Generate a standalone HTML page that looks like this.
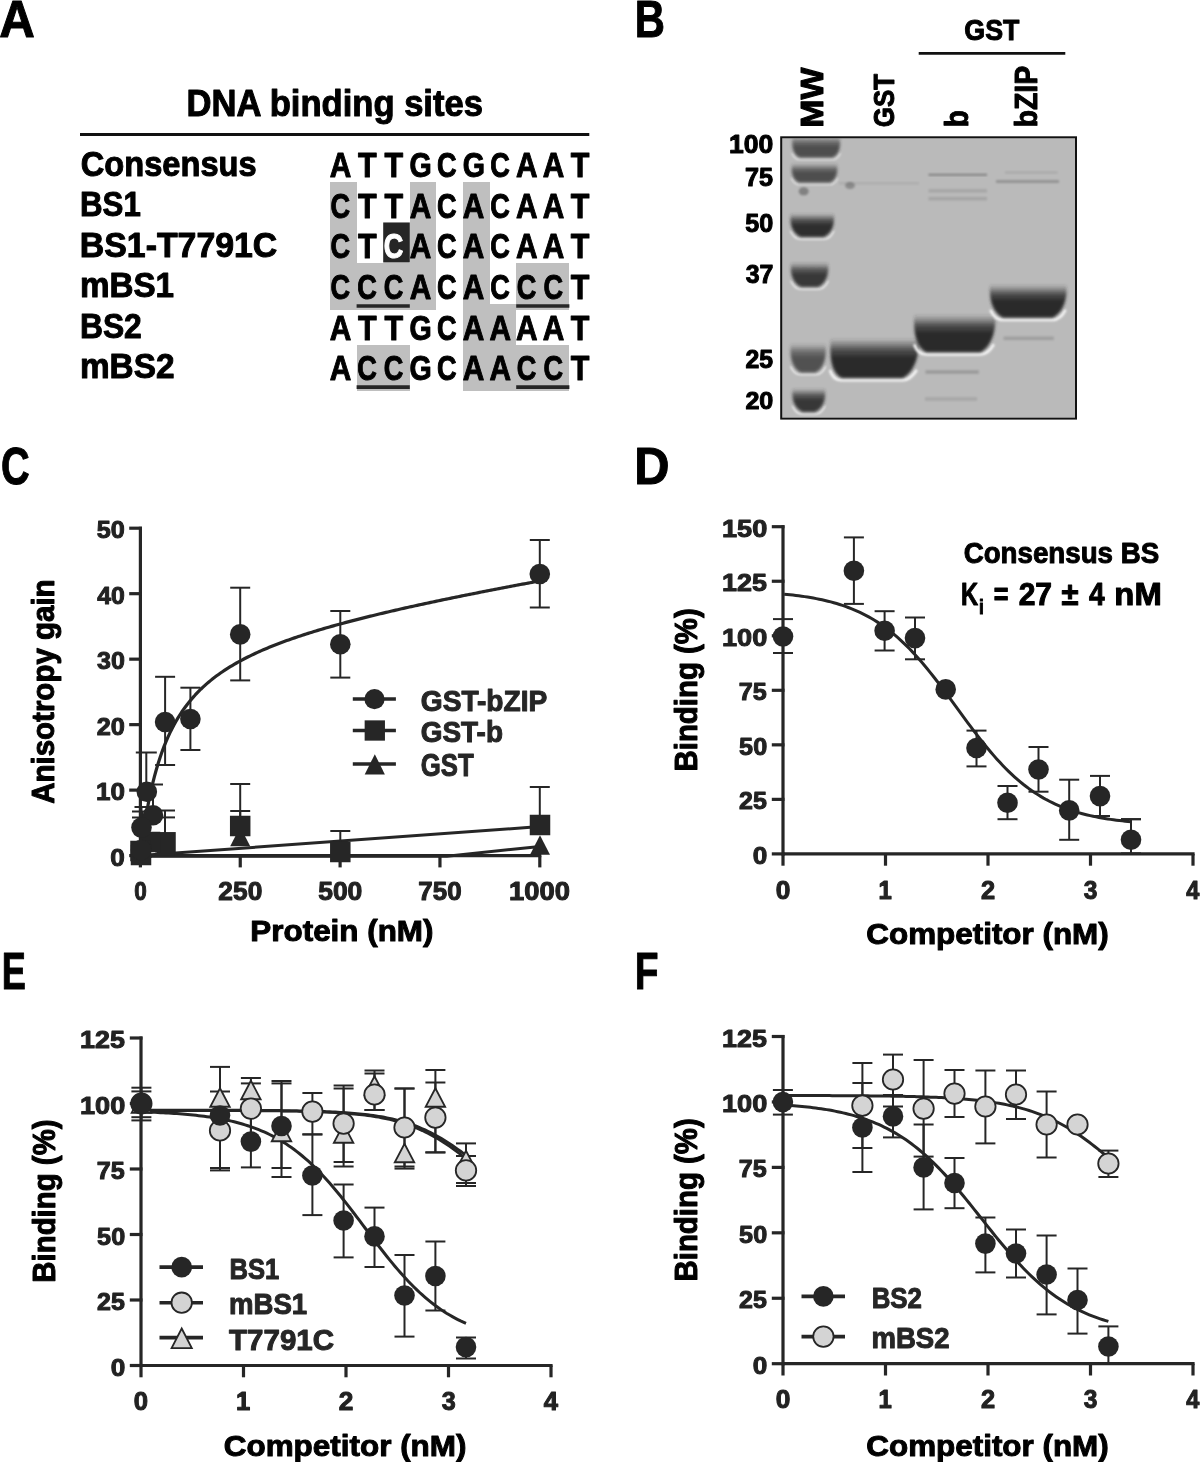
<!DOCTYPE html>
<html><head><meta charset="utf-8"><style>
html,body{margin:0;padding:0;background:#fff;}
svg{display:block;filter:grayscale(1);}
text{font-family:"Liberation Sans",sans-serif;font-weight:bold;}
</style></head><body>
<svg width="1200" height="1462" viewBox="0 0 1200 1462">
<defs>
<filter id="b1" x="-20%" y="-50%" width="140%" height="200%"><feGaussianBlur stdDeviation="1.2"/></filter>
<filter id="bb" x="-20%" y="-50%" width="140%" height="200%"><feGaussianBlur stdDeviation="1.7"/></filter>
<filter id="b2" x="-20%" y="-50%" width="140%" height="200%"><feGaussianBlur stdDeviation="2.5"/></filter>
<filter id="b3" x="-20%" y="-50%" width="140%" height="200%"><feGaussianBlur stdDeviation="4"/></filter>
<filter id="b05" x="-20%" y="-50%" width="140%" height="200%"><feGaussianBlur stdDeviation="0.7"/></filter>
</defs>
<rect width="1200" height="1462" fill="#fff"/>
<text x="-0.73" y="36.75" font-size="52.00" textLength="35.57" lengthAdjust="spacingAndGlyphs" fill="#000" stroke="#000" stroke-width="1.0" stroke-linejoin="round">A</text>
<text x="634.68" y="36.50" font-size="51.64" textLength="30.19" lengthAdjust="spacingAndGlyphs" fill="#000" stroke="#000" stroke-width="1.0" stroke-linejoin="round">B</text>
<text x="0.91" y="483.60" font-size="52.65" textLength="28.67" lengthAdjust="spacingAndGlyphs" fill="#000" stroke="#000" stroke-width="1.0" stroke-linejoin="round">C</text>
<text x="634.20" y="483.50" font-size="52.00" textLength="35.25" lengthAdjust="spacingAndGlyphs" fill="#000" stroke="#000" stroke-width="1.0" stroke-linejoin="round">D</text>
<text x="1.81" y="989.00" font-size="52.00" textLength="24.12" lengthAdjust="spacingAndGlyphs" fill="#000" stroke="#000" stroke-width="1.0" stroke-linejoin="round">E</text>
<text x="634.87" y="989.25" font-size="52.36" textLength="23.77" lengthAdjust="spacingAndGlyphs" fill="#000" stroke="#000" stroke-width="1.0" stroke-linejoin="round">F</text>
<text x="186.47" y="115.50" font-size="36.36" textLength="296.49" lengthAdjust="spacingAndGlyphs" fill="#000" stroke="#000" stroke-width="1.0" stroke-linejoin="round">DNA binding sites</text>
<line x1="80.00" y1="134.50" x2="589.30" y2="134.50" stroke="#111" stroke-width="2.8" stroke-linecap="butt"/>
<text x="80.79" y="175.90" font-size="35.56" textLength="175.92" lengthAdjust="spacingAndGlyphs" fill="#000" stroke="#000" stroke-width="1.0" stroke-linejoin="round">Consensus</text>
<text x="79.99" y="216.30" font-size="35.56" textLength="60.78" lengthAdjust="spacingAndGlyphs" fill="#000" stroke="#000" stroke-width="1.0" stroke-linejoin="round">BS1</text>
<text x="79.82" y="256.60" font-size="35.56" textLength="197.47" lengthAdjust="spacingAndGlyphs" fill="#000" stroke="#000" stroke-width="1.0" stroke-linejoin="round">BS1-T7791C</text>
<text x="79.94" y="296.90" font-size="35.56" textLength="94.14" lengthAdjust="spacingAndGlyphs" fill="#000" stroke="#000" stroke-width="1.0" stroke-linejoin="round">mBS1</text>
<text x="79.95" y="337.50" font-size="35.56" textLength="61.83" lengthAdjust="spacingAndGlyphs" fill="#000" stroke="#000" stroke-width="1.0" stroke-linejoin="round">BS2</text>
<text x="79.93" y="377.90" font-size="35.56" textLength="94.57" lengthAdjust="spacingAndGlyphs" fill="#000" stroke="#000" stroke-width="1.0" stroke-linejoin="round">mBS2</text>
<rect x="330.00" y="182.28" width="26.60" height="40.20" fill="#bfbfbf" shape-rendering="crispEdges"/>
<rect x="409.80" y="182.28" width="26.60" height="40.20" fill="#bfbfbf" shape-rendering="crispEdges"/>
<rect x="463.00" y="182.28" width="26.60" height="40.20" fill="#bfbfbf" shape-rendering="crispEdges"/>
<rect x="330.00" y="222.48" width="26.60" height="40.58" fill="#bfbfbf" shape-rendering="crispEdges"/>
<rect x="409.80" y="222.48" width="26.60" height="40.58" fill="#bfbfbf" shape-rendering="crispEdges"/>
<rect x="463.00" y="222.48" width="26.60" height="40.58" fill="#bfbfbf" shape-rendering="crispEdges"/>
<rect x="330.00" y="263.06" width="26.60" height="46.68" fill="#bfbfbf" shape-rendering="crispEdges"/>
<rect x="356.60" y="263.44" width="26.60" height="46.30" fill="#bfbfbf" shape-rendering="crispEdges"/>
<rect x="383.20" y="263.44" width="26.60" height="46.30" fill="#bfbfbf" shape-rendering="crispEdges"/>
<rect x="409.80" y="263.06" width="26.60" height="46.68" fill="#bfbfbf" shape-rendering="crispEdges"/>
<rect x="463.00" y="263.06" width="26.60" height="40.58" fill="#bfbfbf" shape-rendering="crispEdges"/>
<rect x="516.20" y="263.44" width="26.60" height="46.30" fill="#bfbfbf" shape-rendering="crispEdges"/>
<rect x="542.80" y="263.44" width="26.60" height="46.30" fill="#bfbfbf" shape-rendering="crispEdges"/>
<rect x="463.00" y="303.64" width="26.60" height="40.58" fill="#bfbfbf" shape-rendering="crispEdges"/>
<rect x="489.60" y="304.02" width="26.60" height="40.20" fill="#bfbfbf" shape-rendering="crispEdges"/>
<rect x="356.60" y="344.60" width="26.60" height="46.30" fill="#bfbfbf" shape-rendering="crispEdges"/>
<rect x="383.20" y="344.60" width="26.60" height="46.30" fill="#bfbfbf" shape-rendering="crispEdges"/>
<rect x="463.00" y="344.22" width="26.60" height="46.68" fill="#bfbfbf" shape-rendering="crispEdges"/>
<rect x="489.60" y="344.22" width="26.60" height="46.68" fill="#bfbfbf" shape-rendering="crispEdges"/>
<rect x="516.20" y="344.60" width="26.60" height="46.30" fill="#bfbfbf" shape-rendering="crispEdges"/>
<rect x="542.80" y="344.60" width="26.60" height="46.30" fill="#bfbfbf" shape-rendering="crispEdges"/>
<rect x="383.20" y="222.46" width="26.60" height="40.00" fill="#262626"/>
<text x="329.85" y="177.20" font-size="35.49" textLength="21.56" lengthAdjust="spacingAndGlyphs" fill="#000" stroke="#000" stroke-width="1.0" stroke-linejoin="round">A</text>
<text x="357.89" y="177.20" font-size="35.49" textLength="18.64" lengthAdjust="spacingAndGlyphs" fill="#000" stroke="#000" stroke-width="1.0" stroke-linejoin="round">T</text>
<text x="384.49" y="177.20" font-size="35.49" textLength="18.64" lengthAdjust="spacingAndGlyphs" fill="#000" stroke="#000" stroke-width="1.0" stroke-linejoin="round">T</text>
<text x="409.61" y="177.20" font-size="35.49" textLength="22.24" lengthAdjust="spacingAndGlyphs" fill="#000" stroke="#000" stroke-width="1.0" stroke-linejoin="round">G</text>
<text x="437.01" y="177.20" font-size="35.49" textLength="19.63" lengthAdjust="spacingAndGlyphs" fill="#000" stroke="#000" stroke-width="1.0" stroke-linejoin="round">C</text>
<text x="462.81" y="177.20" font-size="35.49" textLength="22.24" lengthAdjust="spacingAndGlyphs" fill="#000" stroke="#000" stroke-width="1.0" stroke-linejoin="round">G</text>
<text x="490.21" y="177.20" font-size="35.49" textLength="19.63" lengthAdjust="spacingAndGlyphs" fill="#000" stroke="#000" stroke-width="1.0" stroke-linejoin="round">C</text>
<text x="516.05" y="177.20" font-size="35.49" textLength="21.56" lengthAdjust="spacingAndGlyphs" fill="#000" stroke="#000" stroke-width="1.0" stroke-linejoin="round">A</text>
<text x="542.65" y="177.20" font-size="35.49" textLength="21.56" lengthAdjust="spacingAndGlyphs" fill="#000" stroke="#000" stroke-width="1.0" stroke-linejoin="round">A</text>
<text x="570.69" y="177.20" font-size="35.49" textLength="18.64" lengthAdjust="spacingAndGlyphs" fill="#000" stroke="#000" stroke-width="1.0" stroke-linejoin="round">T</text>
<text x="330.61" y="217.78" font-size="35.49" textLength="19.63" lengthAdjust="spacingAndGlyphs" fill="#000" stroke="#000" stroke-width="1.0" stroke-linejoin="round">C</text>
<text x="357.89" y="217.78" font-size="35.49" textLength="18.64" lengthAdjust="spacingAndGlyphs" fill="#000" stroke="#000" stroke-width="1.0" stroke-linejoin="round">T</text>
<text x="384.49" y="217.78" font-size="35.49" textLength="18.64" lengthAdjust="spacingAndGlyphs" fill="#000" stroke="#000" stroke-width="1.0" stroke-linejoin="round">T</text>
<text x="409.65" y="217.78" font-size="35.49" textLength="21.56" lengthAdjust="spacingAndGlyphs" fill="#000" stroke="#000" stroke-width="1.0" stroke-linejoin="round">A</text>
<text x="437.01" y="217.78" font-size="35.49" textLength="19.63" lengthAdjust="spacingAndGlyphs" fill="#000" stroke="#000" stroke-width="1.0" stroke-linejoin="round">C</text>
<text x="462.85" y="217.78" font-size="35.49" textLength="21.56" lengthAdjust="spacingAndGlyphs" fill="#000" stroke="#000" stroke-width="1.0" stroke-linejoin="round">A</text>
<text x="490.21" y="217.78" font-size="35.49" textLength="19.63" lengthAdjust="spacingAndGlyphs" fill="#000" stroke="#000" stroke-width="1.0" stroke-linejoin="round">C</text>
<text x="516.05" y="217.78" font-size="35.49" textLength="21.56" lengthAdjust="spacingAndGlyphs" fill="#000" stroke="#000" stroke-width="1.0" stroke-linejoin="round">A</text>
<text x="542.65" y="217.78" font-size="35.49" textLength="21.56" lengthAdjust="spacingAndGlyphs" fill="#000" stroke="#000" stroke-width="1.0" stroke-linejoin="round">A</text>
<text x="570.69" y="217.78" font-size="35.49" textLength="18.64" lengthAdjust="spacingAndGlyphs" fill="#000" stroke="#000" stroke-width="1.0" stroke-linejoin="round">T</text>
<text x="330.61" y="258.36" font-size="35.49" textLength="19.63" lengthAdjust="spacingAndGlyphs" fill="#000" stroke="#000" stroke-width="1.0" stroke-linejoin="round">C</text>
<text x="357.89" y="258.36" font-size="35.49" textLength="18.64" lengthAdjust="spacingAndGlyphs" fill="#000" stroke="#000" stroke-width="1.0" stroke-linejoin="round">T</text>
<text x="383.81" y="258.36" font-size="35.49" textLength="19.63" lengthAdjust="spacingAndGlyphs" fill="#fff" stroke="#fff" stroke-width="1.0" stroke-linejoin="round">C</text>
<text x="409.65" y="258.36" font-size="35.49" textLength="21.56" lengthAdjust="spacingAndGlyphs" fill="#000" stroke="#000" stroke-width="1.0" stroke-linejoin="round">A</text>
<text x="437.01" y="258.36" font-size="35.49" textLength="19.63" lengthAdjust="spacingAndGlyphs" fill="#000" stroke="#000" stroke-width="1.0" stroke-linejoin="round">C</text>
<text x="462.85" y="258.36" font-size="35.49" textLength="21.56" lengthAdjust="spacingAndGlyphs" fill="#000" stroke="#000" stroke-width="1.0" stroke-linejoin="round">A</text>
<text x="490.21" y="258.36" font-size="35.49" textLength="19.63" lengthAdjust="spacingAndGlyphs" fill="#000" stroke="#000" stroke-width="1.0" stroke-linejoin="round">C</text>
<text x="516.05" y="258.36" font-size="35.49" textLength="21.56" lengthAdjust="spacingAndGlyphs" fill="#000" stroke="#000" stroke-width="1.0" stroke-linejoin="round">A</text>
<text x="542.65" y="258.36" font-size="35.49" textLength="21.56" lengthAdjust="spacingAndGlyphs" fill="#000" stroke="#000" stroke-width="1.0" stroke-linejoin="round">A</text>
<text x="570.69" y="258.36" font-size="35.49" textLength="18.64" lengthAdjust="spacingAndGlyphs" fill="#000" stroke="#000" stroke-width="1.0" stroke-linejoin="round">T</text>
<text x="330.61" y="298.94" font-size="35.49" textLength="19.63" lengthAdjust="spacingAndGlyphs" fill="#000" stroke="#000" stroke-width="1.0" stroke-linejoin="round">C</text>
<text x="357.21" y="298.94" font-size="35.49" textLength="19.63" lengthAdjust="spacingAndGlyphs" fill="#000" stroke="#000" stroke-width="1.0" stroke-linejoin="round">C</text>
<text x="383.81" y="298.94" font-size="35.49" textLength="19.63" lengthAdjust="spacingAndGlyphs" fill="#000" stroke="#000" stroke-width="1.0" stroke-linejoin="round">C</text>
<text x="409.65" y="298.94" font-size="35.49" textLength="21.56" lengthAdjust="spacingAndGlyphs" fill="#000" stroke="#000" stroke-width="1.0" stroke-linejoin="round">A</text>
<text x="437.01" y="298.94" font-size="35.49" textLength="19.63" lengthAdjust="spacingAndGlyphs" fill="#000" stroke="#000" stroke-width="1.0" stroke-linejoin="round">C</text>
<text x="462.85" y="298.94" font-size="35.49" textLength="21.56" lengthAdjust="spacingAndGlyphs" fill="#000" stroke="#000" stroke-width="1.0" stroke-linejoin="round">A</text>
<text x="490.21" y="298.94" font-size="35.49" textLength="19.63" lengthAdjust="spacingAndGlyphs" fill="#000" stroke="#000" stroke-width="1.0" stroke-linejoin="round">C</text>
<text x="516.81" y="298.94" font-size="35.49" textLength="19.63" lengthAdjust="spacingAndGlyphs" fill="#000" stroke="#000" stroke-width="1.0" stroke-linejoin="round">C</text>
<text x="543.41" y="298.94" font-size="35.49" textLength="19.63" lengthAdjust="spacingAndGlyphs" fill="#000" stroke="#000" stroke-width="1.0" stroke-linejoin="round">C</text>
<text x="570.69" y="298.94" font-size="35.49" textLength="18.64" lengthAdjust="spacingAndGlyphs" fill="#000" stroke="#000" stroke-width="1.0" stroke-linejoin="round">T</text>
<text x="329.85" y="339.52" font-size="35.49" textLength="21.56" lengthAdjust="spacingAndGlyphs" fill="#000" stroke="#000" stroke-width="1.0" stroke-linejoin="round">A</text>
<text x="357.89" y="339.52" font-size="35.49" textLength="18.64" lengthAdjust="spacingAndGlyphs" fill="#000" stroke="#000" stroke-width="1.0" stroke-linejoin="round">T</text>
<text x="384.49" y="339.52" font-size="35.49" textLength="18.64" lengthAdjust="spacingAndGlyphs" fill="#000" stroke="#000" stroke-width="1.0" stroke-linejoin="round">T</text>
<text x="409.61" y="339.52" font-size="35.49" textLength="22.24" lengthAdjust="spacingAndGlyphs" fill="#000" stroke="#000" stroke-width="1.0" stroke-linejoin="round">G</text>
<text x="437.01" y="339.52" font-size="35.49" textLength="19.63" lengthAdjust="spacingAndGlyphs" fill="#000" stroke="#000" stroke-width="1.0" stroke-linejoin="round">C</text>
<text x="462.85" y="339.52" font-size="35.49" textLength="21.56" lengthAdjust="spacingAndGlyphs" fill="#000" stroke="#000" stroke-width="1.0" stroke-linejoin="round">A</text>
<text x="489.45" y="339.52" font-size="35.49" textLength="21.56" lengthAdjust="spacingAndGlyphs" fill="#000" stroke="#000" stroke-width="1.0" stroke-linejoin="round">A</text>
<text x="516.05" y="339.52" font-size="35.49" textLength="21.56" lengthAdjust="spacingAndGlyphs" fill="#000" stroke="#000" stroke-width="1.0" stroke-linejoin="round">A</text>
<text x="542.65" y="339.52" font-size="35.49" textLength="21.56" lengthAdjust="spacingAndGlyphs" fill="#000" stroke="#000" stroke-width="1.0" stroke-linejoin="round">A</text>
<text x="570.69" y="339.52" font-size="35.49" textLength="18.64" lengthAdjust="spacingAndGlyphs" fill="#000" stroke="#000" stroke-width="1.0" stroke-linejoin="round">T</text>
<text x="329.85" y="380.10" font-size="35.49" textLength="21.56" lengthAdjust="spacingAndGlyphs" fill="#000" stroke="#000" stroke-width="1.0" stroke-linejoin="round">A</text>
<text x="357.21" y="380.10" font-size="35.49" textLength="19.63" lengthAdjust="spacingAndGlyphs" fill="#000" stroke="#000" stroke-width="1.0" stroke-linejoin="round">C</text>
<text x="383.81" y="380.10" font-size="35.49" textLength="19.63" lengthAdjust="spacingAndGlyphs" fill="#000" stroke="#000" stroke-width="1.0" stroke-linejoin="round">C</text>
<text x="409.61" y="380.10" font-size="35.49" textLength="22.24" lengthAdjust="spacingAndGlyphs" fill="#000" stroke="#000" stroke-width="1.0" stroke-linejoin="round">G</text>
<text x="437.01" y="380.10" font-size="35.49" textLength="19.63" lengthAdjust="spacingAndGlyphs" fill="#000" stroke="#000" stroke-width="1.0" stroke-linejoin="round">C</text>
<text x="462.85" y="380.10" font-size="35.49" textLength="21.56" lengthAdjust="spacingAndGlyphs" fill="#000" stroke="#000" stroke-width="1.0" stroke-linejoin="round">A</text>
<text x="489.45" y="380.10" font-size="35.49" textLength="21.56" lengthAdjust="spacingAndGlyphs" fill="#000" stroke="#000" stroke-width="1.0" stroke-linejoin="round">A</text>
<text x="516.81" y="380.10" font-size="35.49" textLength="19.63" lengthAdjust="spacingAndGlyphs" fill="#000" stroke="#000" stroke-width="1.0" stroke-linejoin="round">C</text>
<text x="543.41" y="380.10" font-size="35.49" textLength="19.63" lengthAdjust="spacingAndGlyphs" fill="#000" stroke="#000" stroke-width="1.0" stroke-linejoin="round">C</text>
<text x="570.69" y="380.10" font-size="35.49" textLength="18.64" lengthAdjust="spacingAndGlyphs" fill="#000" stroke="#000" stroke-width="1.0" stroke-linejoin="round">T</text>
<line x1="356.60" y1="305.94" x2="409.80" y2="305.94" stroke="#262626" stroke-width="3.6" stroke-linecap="butt"/>
<line x1="516.20" y1="305.94" x2="569.40" y2="305.94" stroke="#262626" stroke-width="3.6" stroke-linecap="butt"/>
<line x1="356.60" y1="387.10" x2="409.80" y2="387.10" stroke="#262626" stroke-width="3.6" stroke-linecap="butt"/>
<line x1="516.20" y1="387.10" x2="569.40" y2="387.10" stroke="#262626" stroke-width="3.6" stroke-linecap="butt"/>
<text x="964.33" y="40.20" font-size="29.96" textLength="55.06" lengthAdjust="spacingAndGlyphs" fill="#000" stroke="#000" stroke-width="1.0" stroke-linejoin="round">GST</text>
<line x1="918.70" y1="53.30" x2="1065.30" y2="53.30" stroke="#111" stroke-width="2.7" stroke-linecap="butt"/>
<text transform="translate(822.50,125.50) rotate(-90)" x="-2.28" y="0" font-size="31.13" textLength="60.04" lengthAdjust="spacingAndGlyphs" fill="#000" stroke="#000" stroke-width="1.0" stroke-linejoin="round">MW</text>
<text transform="translate(894.40,126.10) rotate(-90)" x="-1.04" y="0" font-size="29.96" textLength="53.31" lengthAdjust="spacingAndGlyphs" fill="#000" stroke="#000" stroke-width="1.0" stroke-linejoin="round">GST</text>
<text transform="translate(967.70,125.50) rotate(-90)" x="-1.81" y="0" font-size="32.55" textLength="17.06" lengthAdjust="spacingAndGlyphs" fill="#000" stroke="#000" stroke-width="1.0" stroke-linejoin="round">b</text>
<text transform="translate(1037.20,125.50) rotate(-90)" x="-1.84" y="0" font-size="30.55" textLength="61.41" lengthAdjust="spacingAndGlyphs" fill="#000" stroke="#000" stroke-width="1.0" stroke-linejoin="round">bZIP</text>
<text x="729.14" y="152.70" font-size="25.60" textLength="44.24" lengthAdjust="spacingAndGlyphs" fill="#000" stroke="#000" stroke-width="1.0" stroke-linejoin="round">100</text>
<text x="745.03" y="186.10" font-size="25.16" textLength="28.02" lengthAdjust="spacingAndGlyphs" fill="#000" stroke="#000" stroke-width="1.0" stroke-linejoin="round">75</text>
<text x="745.34" y="232.10" font-size="25.60" textLength="28.02" lengthAdjust="spacingAndGlyphs" fill="#000" stroke="#000" stroke-width="1.0" stroke-linejoin="round">50</text>
<text x="745.74" y="282.80" font-size="25.16" textLength="27.68" lengthAdjust="spacingAndGlyphs" fill="#000" stroke="#000" stroke-width="1.0" stroke-linejoin="round">37</text>
<text x="745.43" y="367.70" font-size="24.87" textLength="27.61" lengthAdjust="spacingAndGlyphs" fill="#000" stroke="#000" stroke-width="1.0" stroke-linejoin="round">25</text>
<text x="745.42" y="408.70" font-size="24.58" textLength="27.94" lengthAdjust="spacingAndGlyphs" fill="#000" stroke="#000" stroke-width="1.0" stroke-linejoin="round">20</text>
<defs><linearGradient id="bandg" x1="0" y1="0" x2="0" y2="1"><stop offset="0" stop-color="#2c2c2c" stop-opacity="0.0"/><stop offset="0.12" stop-color="#2c2c2c" stop-opacity="0.25"/><stop offset="0.3" stop-color="#2c2c2c" stop-opacity="0.75"/><stop offset="0.5" stop-color="#2c2c2c" stop-opacity="1"/><stop offset="1" stop-color="#2c2c2c" stop-opacity="1"/></linearGradient><clipPath id="gelclip"><rect x="782" y="138.3" width="293" height="279.3"/></clipPath></defs>
<g clip-path="url(#gelclip)">
<rect x="781.20" y="137.30" width="294.80" height="281.30" fill="#bababa"/>
<path d="M792.0,153.0 C793.5,156.5 796.0,159.5 799.5,159.5 L832.8,159.5 C836.3,159.5 838.8,156.5 840.3,153.0" fill="none" stroke="#f6f6f6" stroke-width="1.2" filter="url(#b1)" opacity="0.95"/>
<g opacity="0.75" filter="url(#bb)"><path d="M792.5,136.0 L839.8,136.0 C840.8,145.7 839.8,154.5 832.8,157.5 L799.5,157.5 C792.5,154.5 791.5,145.7 792.5,136.0 Z" fill="url(#bandg)"/></g>
<path d="M791.5,178.0 C793.0,181.5 795.5,184.5 799.0,184.5 L830.0,184.5 C833.5,184.5 836.0,181.5 837.5,178.0" fill="none" stroke="#f6f6f6" stroke-width="1.2" filter="url(#b1)" opacity="0.95"/>
<g opacity="0.75" filter="url(#bb)"><path d="M792.0,163.0 L837.0,163.0 C838.0,171.8 837.0,179.5 830.0,182.5 L799.0,182.5 C792.0,179.5 791.0,171.8 792.0,163.0 Z" fill="url(#bandg)"/></g>
<ellipse cx="803.7" cy="191.3" rx="5" ry="4" fill="#000" opacity="0.3" filter="url(#b1)"/>
<ellipse cx="850" cy="185.6" rx="5" ry="3.5" fill="#000" opacity="0.25" filter="url(#b1)"/>
<path d="M790.6,230.7 C792.6,235.6 795.7,239.0 800.6,239.0 L823.8,239.0 C828.7,239.0 831.8,235.6 833.8,230.7" fill="none" stroke="#f6f6f6" stroke-width="1.6" filter="url(#b1)" opacity="0.95"/>
<g opacity="0.97" filter="url(#bb)"><path d="M790.6,213.0 L833.8,213.0 C834.8,223.8 832.8,232.8 823.8,237.0 L800.6,237.0 C791.6,232.8 789.6,223.8 790.6,213.0 Z" fill="url(#bandg)"/></g>
<path d="M791.0,280.7 C793.0,285.6 796.1,289.0 801.0,289.0 L818.1,289.0 C823.0,289.0 826.1,285.6 828.1,280.7" fill="none" stroke="#f6f6f6" stroke-width="1.6" filter="url(#b1)" opacity="0.95"/>
<g opacity="0.9" filter="url(#bb)"><path d="M791.0,262.0 L828.1,262.0 C829.1,273.2 827.1,282.8 818.1,287.0 L801.0,287.0 C792.0,282.8 790.0,273.2 791.0,262.0 Z" fill="url(#bandg)"/></g>
<path d="M790.6,366.2 C792.6,371.1 795.7,374.5 800.6,374.5 L815.6,374.5 C820.5,374.5 823.6,371.1 825.6,366.2" fill="none" stroke="#f6f6f6" stroke-width="1.6" filter="url(#b1)" opacity="0.95"/>
<g opacity="0.72" filter="url(#bb)"><path d="M790.6,343.0 L825.6,343.0 C826.6,356.3 824.6,368.3 815.6,372.5 L800.6,372.5 C791.6,368.3 789.6,356.3 790.6,343.0 Z" fill="url(#bandg)"/></g>
<path d="M792.5,405.7 C794.5,410.6 797.6,414.0 802.5,414.0 L815.0,414.0 C819.9,414.0 823.0,410.6 825.0,405.7" fill="none" stroke="#f6f6f6" stroke-width="1.6" filter="url(#b1)" opacity="0.95"/>
<g opacity="0.9" filter="url(#bb)"><path d="M792.5,388.0 L825.0,388.0 C826.0,398.8 824.0,407.8 815.0,412.0 L802.5,412.0 C793.5,407.8 791.5,398.8 792.5,388.0 Z" fill="url(#bandg)"/></g>
<path d="M830.1,369.9 C831.6,376.2 835.3,380.0 841.6,380.0 L902.8,380.0 C909.1,380.0 912.8,376.2 916.8,369.9" fill="none" stroke="#f6f6f6" stroke-width="3" filter="url(#b1)" opacity="0.95"/>
<g opacity="1" filter="url(#bb)"><path d="M830.6,338.0 L918.8,338.0 C919.8,356.0 913.8,372.6 902.8,378.0 L841.6,378.0 C830.6,372.6 829.6,356.0 830.6,338.0 Z" fill="url(#bandg)"/></g>
<path d="M914.3,344.2 C916.3,350.5 920.0,354.3 926.3,354.3 L980.3,354.3 C986.6,354.3 990.3,350.5 993.8,344.2" fill="none" stroke="#f6f6f6" stroke-width="3" filter="url(#b1)" opacity="0.95"/>
<g opacity="1" filter="url(#bb)"><path d="M914.3,314.0 L995.3,314.0 C996.3,331.2 991.3,346.9 980.3,352.3 L926.3,352.3 C915.3,346.9 913.3,331.2 914.3,314.0 Z" fill="url(#bandg)"/></g>
<path d="M990.5,309.7 C993.0,316.0 996.7,319.8 1003.0,319.8 L1052.5,319.8 C1058.8,319.8 1062.5,316.0 1065.5,309.7" fill="none" stroke="#f6f6f6" stroke-width="3" filter="url(#b1)" opacity="0.95"/>
<g opacity="1" filter="url(#bb)"><path d="M990.0,284.0 L1066.5,284.0 C1067.5,299.2 1063.5,312.4 1052.5,317.8 L1003.0,317.8 C992.0,312.4 989.0,299.2 990.0,284.0 Z" fill="url(#bandg)"/></g>
<rect x="839" y="182.3" width="80" height="2" fill="#000" opacity="0.08" filter="url(#b1)"/>
<rect x="928.5" y="173.70000000000002" width="58.5" height="2.2" fill="#000" opacity="0.28" filter="url(#b1)"/>
<rect x="928.5" y="189.05" width="58.5" height="3.5" fill="#000" opacity="0.1" filter="url(#b1)"/>
<rect x="928.5" y="196.95" width="58.5" height="3.5" fill="#000" opacity="0.11" filter="url(#b1)"/>
<rect x="925.5" y="370.25" width="53.299999999999955" height="3.5" fill="#000" opacity="0.17" filter="url(#b1)"/>
<rect x="925" y="397.25" width="52" height="3.5" fill="#000" opacity="0.1" filter="url(#b1)"/>
<rect x="1005" y="171.5" width="52.5" height="2" fill="#000" opacity="0.1" filter="url(#b1)"/>
<rect x="996" y="180.0" width="63" height="3" fill="#000" opacity="0.2" filter="url(#b1)"/>
<rect x="1003.5" y="336.55" width="50.299999999999955" height="3.5" fill="#000" opacity="0.14" filter="url(#b1)"/>
</g>
<rect x="781.2" y="137.3" width="294.8" height="281.3" fill="none" stroke="#111" stroke-width="2"/>
<line x1="140.40" y1="526.70" x2="140.40" y2="857.10" stroke="#262626" stroke-width="3.2" stroke-linecap="butt"/>
<line x1="129.20" y1="528.20" x2="141.90" y2="528.20" stroke="#262626" stroke-width="3.2" stroke-linecap="butt"/>
<text x="96.84" y="538.20" font-size="24.73" textLength="28.02" lengthAdjust="spacingAndGlyphs" fill="#222" stroke="#222" stroke-width="1.0" stroke-linejoin="round">50</text>
<line x1="129.20" y1="593.68" x2="141.90" y2="593.68" stroke="#262626" stroke-width="3.2" stroke-linecap="butt"/>
<text x="97.23" y="603.68" font-size="24.73" textLength="27.62" lengthAdjust="spacingAndGlyphs" fill="#222" stroke="#222" stroke-width="1.0" stroke-linejoin="round">40</text>
<line x1="129.20" y1="659.16" x2="141.90" y2="659.16" stroke="#262626" stroke-width="3.2" stroke-linecap="butt"/>
<text x="97.04" y="669.16" font-size="24.73" textLength="27.82" lengthAdjust="spacingAndGlyphs" fill="#222" stroke="#222" stroke-width="1.0" stroke-linejoin="round">30</text>
<line x1="129.20" y1="724.64" x2="141.90" y2="724.64" stroke="#262626" stroke-width="3.2" stroke-linecap="butt"/>
<text x="96.71" y="734.64" font-size="24.73" textLength="28.16" lengthAdjust="spacingAndGlyphs" fill="#222" stroke="#222" stroke-width="1.0" stroke-linejoin="round">20</text>
<line x1="129.20" y1="790.12" x2="141.90" y2="790.12" stroke="#262626" stroke-width="3.2" stroke-linecap="butt"/>
<text x="95.97" y="800.12" font-size="24.73" textLength="28.93" lengthAdjust="spacingAndGlyphs" fill="#222" stroke="#222" stroke-width="1.0" stroke-linejoin="round">10</text>
<line x1="129.20" y1="855.60" x2="141.90" y2="855.60" stroke="#262626" stroke-width="3.2" stroke-linecap="butt"/>
<text x="110.36" y="865.60" font-size="24.73" textLength="14.52" lengthAdjust="spacingAndGlyphs" fill="#222" stroke="#222" stroke-width="1.0" stroke-linejoin="round">0</text>
<line x1="140.40" y1="855.60" x2="541.30" y2="855.60" stroke="#262626" stroke-width="3.2" stroke-linecap="butt"/>
<line x1="140.40" y1="855.60" x2="140.40" y2="867.40" stroke="#262626" stroke-width="3.2" stroke-linecap="butt"/>
<text x="134.15" y="899.70" font-size="25.02" textLength="12.53" lengthAdjust="spacingAndGlyphs" fill="#222" stroke="#222" stroke-width="1.0" stroke-linejoin="round">0</text>
<line x1="240.25" y1="855.60" x2="240.25" y2="867.40" stroke="#262626" stroke-width="3.2" stroke-linecap="butt"/>
<text x="218.38" y="899.70" font-size="25.02" textLength="43.90" lengthAdjust="spacingAndGlyphs" fill="#222" stroke="#222" stroke-width="1.0" stroke-linejoin="round">250</text>
<line x1="340.10" y1="855.60" x2="340.10" y2="867.40" stroke="#262626" stroke-width="3.2" stroke-linecap="butt"/>
<text x="318.16" y="899.70" font-size="25.02" textLength="44.18" lengthAdjust="spacingAndGlyphs" fill="#222" stroke="#222" stroke-width="1.0" stroke-linejoin="round">500</text>
<line x1="439.95" y1="855.60" x2="439.95" y2="867.40" stroke="#262626" stroke-width="3.2" stroke-linecap="butt"/>
<text x="418.30" y="899.70" font-size="25.02" textLength="43.27" lengthAdjust="spacingAndGlyphs" fill="#222" stroke="#222" stroke-width="1.0" stroke-linejoin="round">750</text>
<line x1="539.80" y1="855.60" x2="539.80" y2="867.40" stroke="#262626" stroke-width="3.2" stroke-linecap="butt"/>
<text x="509.09" y="899.70" font-size="25.02" textLength="60.86" lengthAdjust="spacingAndGlyphs" fill="#222" stroke="#222" stroke-width="1.0" stroke-linejoin="round">1000</text>
<text x="250.38" y="941.30" font-size="29.96" textLength="183.09" lengthAdjust="spacingAndGlyphs" fill="#000" stroke="#000" stroke-width="1.0" stroke-linejoin="round">Protein (nM)</text>
<text transform="translate(54.30,803.10) rotate(-90)" x="-0.74" y="0" font-size="30.84" textLength="224.45" lengthAdjust="spacingAndGlyphs" fill="#000" stroke="#000" stroke-width="1.0" stroke-linejoin="round">Anisotropy gain</text>
<path d="M140.40,856.30 L446.80,856.30 L540.00,846.40" fill="none" stroke="#262626" stroke-width="3" stroke-linejoin="round"/>
<path d="M140.40,855.60 L540.00,826.60" fill="none" stroke="#262626" stroke-width="3" stroke-linejoin="round"/>
<path d="M140.40,855.60 L140.81,852.17 L141.23,848.84 L141.64,845.61 L142.05,842.46 L142.47,839.40 L142.88,836.42 L143.29,833.51 L143.71,830.69 L144.12,827.93 L144.53,825.25 L144.94,822.63 L145.36,820.08 L145.77,817.59 L146.18,815.16 L146.60,812.79 L147.01,810.47 L147.42,808.20 L147.84,805.99 L148.25,803.83 L148.66,801.71 L149.08,799.65 L149.49,797.62 L149.90,795.64 L150.32,793.71 L150.73,791.81 L151.14,789.95 L151.56,788.13 L151.97,786.35 L152.38,784.60 L152.38,784.60 L154.33,776.82 L156.28,769.71 L158.22,763.18 L160.17,757.16 L162.12,751.59 L164.06,746.42 L166.01,741.60 L167.96,737.11 L169.90,732.89 L171.85,728.94 L173.80,725.22 L175.74,721.71 L177.69,718.40 L179.64,715.26 L181.58,712.28 L183.53,709.44 L185.48,706.75 L187.42,704.18 L189.37,701.72 L191.32,699.37 L193.27,697.12 L195.21,694.96 L197.16,692.89 L199.11,690.90 L201.05,688.98 L203.00,687.14 L204.95,685.36 L206.89,683.64 L208.84,681.98 L210.79,680.37 L212.73,678.81 L214.68,677.30 L216.63,675.84 L218.57,674.42 L220.52,673.04 L222.47,671.70 L224.41,670.40 L226.36,669.13 L228.31,667.89 L230.25,666.69 L232.20,665.51 L234.15,664.37 L236.10,663.25 L238.04,662.15 L239.99,661.08 L241.94,660.04 L243.88,659.01 L245.83,658.01 L247.78,657.03 L249.72,656.06 L251.67,655.12 L253.62,654.19 L255.56,653.29 L257.51,652.39 L259.46,651.52 L261.40,650.66 L263.35,649.81 L265.30,648.98 L267.24,648.16 L269.19,647.35 L271.14,646.56 L273.09,645.78 L275.03,645.01 L276.98,644.25 L278.93,643.51 L280.87,642.77 L282.82,642.05 L284.77,641.33 L286.71,640.62 L288.66,639.92 L290.61,639.24 L292.55,638.56 L294.50,637.88 L296.45,637.22 L298.39,636.56 L300.34,635.92 L302.29,635.27 L304.23,634.64 L306.18,634.01 L308.13,633.39 L310.07,632.78 L312.02,632.17 L313.97,631.57 L315.92,630.97 L317.86,630.38 L319.81,629.80 L321.76,629.22 L323.70,628.65 L325.65,628.08 L327.60,627.51 L329.54,626.96 L331.49,626.40 L333.44,625.85 L335.38,625.31 L337.33,624.77 L339.28,624.23 L341.22,623.70 L343.17,623.17 L345.12,622.65 L347.06,622.13 L349.01,621.61 L350.96,621.10 L352.90,620.59 L354.85,620.08 L356.80,619.58 L358.75,619.08 L360.69,618.59 L362.64,618.09 L364.59,617.60 L366.53,617.12 L368.48,616.63 L370.43,616.15 L372.37,615.68 L374.32,615.20 L376.27,614.73 L378.21,614.26 L380.16,613.79 L382.11,613.33 L384.05,612.87 L386.00,612.41 L387.95,611.95 L389.89,611.49 L391.84,611.04 L393.79,610.59 L395.74,610.14 L397.68,609.70 L399.63,609.25 L401.58,608.81 L403.52,608.37 L405.47,607.93 L407.42,607.50 L409.36,607.06 L411.31,606.63 L413.26,606.20 L415.20,605.77 L417.15,605.34 L419.10,604.92 L421.04,604.49 L422.99,604.07 L424.94,603.65 L426.88,603.23 L428.83,602.82 L430.78,602.40 L432.72,601.99 L434.67,601.57 L436.62,601.16 L438.57,600.75 L440.51,600.34 L442.46,599.94 L444.41,599.53 L446.35,599.13 L448.30,598.72 L450.25,598.32 L452.19,597.92 L454.14,597.52 L456.09,597.12 L458.03,596.73 L459.98,596.33 L461.93,595.94 L463.87,595.54 L465.82,595.15 L467.77,594.76 L469.71,594.37 L471.66,593.98 L473.61,593.59 L475.55,593.20 L477.50,592.82 L479.45,592.43 L481.40,592.05 L483.34,591.67 L485.29,591.28 L487.24,590.90 L489.18,590.52 L491.13,590.14 L493.08,589.76 L495.02,589.39 L496.97,589.01 L498.92,588.63 L500.86,588.26 L502.81,587.88 L504.76,587.51 L506.70,587.14 L508.65,586.77 L510.60,586.40 L512.54,586.03 L514.49,585.66 L516.44,585.29 L518.38,584.92 L520.33,584.55 L522.28,584.18 L524.23,583.82 L526.17,583.45 L528.12,583.09 L530.07,582.73 L532.01,582.36 L533.96,582.00 L535.91,581.64 L537.85,581.28 L539.80,580.92" fill="none" stroke="#262626" stroke-width="3.2" stroke-linejoin="round"/>
<line x1="539.80" y1="540.00" x2="539.80" y2="607.50" stroke="#262626" stroke-width="2" stroke-linecap="butt"/>
<line x1="529.80" y1="540.00" x2="549.80" y2="540.00" stroke="#262626" stroke-width="2" stroke-linecap="butt"/>
<line x1="529.80" y1="607.50" x2="549.80" y2="607.50" stroke="#262626" stroke-width="2" stroke-linecap="butt"/>
<line x1="340.30" y1="611.00" x2="340.30" y2="677.60" stroke="#262626" stroke-width="2" stroke-linecap="butt"/>
<line x1="330.30" y1="611.00" x2="350.30" y2="611.00" stroke="#262626" stroke-width="2" stroke-linecap="butt"/>
<line x1="330.30" y1="677.60" x2="350.30" y2="677.60" stroke="#262626" stroke-width="2" stroke-linecap="butt"/>
<line x1="240.20" y1="587.70" x2="240.20" y2="680.40" stroke="#262626" stroke-width="2" stroke-linecap="butt"/>
<line x1="230.20" y1="587.70" x2="250.20" y2="587.70" stroke="#262626" stroke-width="2" stroke-linecap="butt"/>
<line x1="230.20" y1="680.40" x2="250.20" y2="680.40" stroke="#262626" stroke-width="2" stroke-linecap="butt"/>
<line x1="190.40" y1="687.70" x2="190.40" y2="750.00" stroke="#262626" stroke-width="2" stroke-linecap="butt"/>
<line x1="180.40" y1="687.70" x2="200.40" y2="687.70" stroke="#262626" stroke-width="2" stroke-linecap="butt"/>
<line x1="180.40" y1="750.00" x2="200.40" y2="750.00" stroke="#262626" stroke-width="2" stroke-linecap="butt"/>
<line x1="165.10" y1="676.80" x2="165.10" y2="765.00" stroke="#262626" stroke-width="2" stroke-linecap="butt"/>
<line x1="155.10" y1="676.80" x2="175.10" y2="676.80" stroke="#262626" stroke-width="2" stroke-linecap="butt"/>
<line x1="155.10" y1="765.00" x2="175.10" y2="765.00" stroke="#262626" stroke-width="2" stroke-linecap="butt"/>
<line x1="146.30" y1="791.70" x2="146.30" y2="752.50" stroke="#262626" stroke-width="2" stroke-linecap="butt"/>
<line x1="135.80" y1="752.50" x2="156.80" y2="752.50" stroke="#262626" stroke-width="2" stroke-linecap="butt"/>
<line x1="153.00" y1="815.00" x2="153.00" y2="784.50" stroke="#262626" stroke-width="2" stroke-linecap="butt"/>
<line x1="143.00" y1="784.50" x2="163.00" y2="784.50" stroke="#262626" stroke-width="2" stroke-linecap="butt"/>
<line x1="141.50" y1="827.00" x2="141.50" y2="807.00" stroke="#262626" stroke-width="2" stroke-linecap="butt"/>
<line x1="134.50" y1="807.00" x2="148.50" y2="807.00" stroke="#262626" stroke-width="2" stroke-linecap="butt"/>
<line x1="165.00" y1="842.00" x2="165.00" y2="810.50" stroke="#262626" stroke-width="2" stroke-linecap="butt"/>
<line x1="155.00" y1="810.50" x2="175.00" y2="810.50" stroke="#262626" stroke-width="2" stroke-linecap="butt"/>
<line x1="165.00" y1="842.00" x2="165.00" y2="817.40" stroke="#262626" stroke-width="2" stroke-linecap="butt"/>
<line x1="155.00" y1="817.40" x2="175.00" y2="817.40" stroke="#262626" stroke-width="2" stroke-linecap="butt"/>
<line x1="142.00" y1="845.00" x2="142.00" y2="811.50" stroke="#262626" stroke-width="2" stroke-linecap="butt"/>
<line x1="132.00" y1="811.50" x2="152.00" y2="811.50" stroke="#262626" stroke-width="2" stroke-linecap="butt"/>
<line x1="142.00" y1="845.00" x2="142.00" y2="817.50" stroke="#262626" stroke-width="2" stroke-linecap="butt"/>
<line x1="132.00" y1="817.50" x2="152.00" y2="817.50" stroke="#262626" stroke-width="2" stroke-linecap="butt"/>
<line x1="539.80" y1="825.00" x2="539.80" y2="787.00" stroke="#262626" stroke-width="2" stroke-linecap="butt"/>
<line x1="529.80" y1="787.00" x2="549.80" y2="787.00" stroke="#262626" stroke-width="2" stroke-linecap="butt"/>
<line x1="340.30" y1="851.70" x2="340.30" y2="831.00" stroke="#262626" stroke-width="2" stroke-linecap="butt"/>
<line x1="330.30" y1="831.00" x2="350.30" y2="831.00" stroke="#262626" stroke-width="2" stroke-linecap="butt"/>
<line x1="240.20" y1="826.00" x2="240.20" y2="784.00" stroke="#262626" stroke-width="2" stroke-linecap="butt"/>
<line x1="230.20" y1="784.00" x2="250.20" y2="784.00" stroke="#262626" stroke-width="2" stroke-linecap="butt"/>
<line x1="240.20" y1="838.00" x2="240.20" y2="811.00" stroke="#262626" stroke-width="2" stroke-linecap="butt"/>
<line x1="230.20" y1="811.00" x2="250.20" y2="811.00" stroke="#262626" stroke-width="2" stroke-linecap="butt"/>
<polygon points="540.00,835.25 550.00,854.75 530.00,854.75" fill="#262626"/>
<polygon points="240.20,826.75 250.20,846.25 230.20,846.25" fill="#262626"/>
<polygon points="142.00,838.25 152.00,857.75 132.00,857.75" fill="#262626"/>
<polygon points="165.00,836.25 175.00,855.75 155.00,855.75" fill="#262626"/>
<rect x="529.75" y="814.75" width="20.50" height="20.50" fill="#262626"/>
<rect x="330.05" y="841.75" width="20.50" height="20.50" fill="#262626"/>
<rect x="229.95" y="815.75" width="20.50" height="20.50" fill="#262626"/>
<rect x="155.25" y="832.05" width="20.50" height="20.50" fill="#262626"/>
<rect x="139.75" y="831.75" width="20.50" height="20.50" fill="#262626"/>
<rect x="130.25" y="840.75" width="20.50" height="20.50" fill="#262626"/>
<rect x="130.75" y="844.75" width="20.50" height="20.50" fill="#262626"/>
<circle cx="539.80" cy="574.00" r="10.30" fill="#262626"/>
<circle cx="340.30" cy="644.20" r="10.30" fill="#262626"/>
<circle cx="240.20" cy="634.40" r="10.30" fill="#262626"/>
<circle cx="190.40" cy="719.00" r="10.30" fill="#262626"/>
<circle cx="165.10" cy="722.00" r="10.30" fill="#262626"/>
<circle cx="146.80" cy="791.70" r="10.30" fill="#262626"/>
<circle cx="153.00" cy="815.20" r="10.30" fill="#262626"/>
<circle cx="141.50" cy="827.60" r="10.30" fill="#262626"/>
<circle cx="141.00" cy="850.00" r="10.30" fill="#262626"/>
<line x1="352.80" y1="698.90" x2="395.90" y2="698.90" stroke="#262626" stroke-width="3.5" stroke-linecap="butt"/>
<line x1="352.80" y1="730.40" x2="395.90" y2="730.40" stroke="#262626" stroke-width="3.5" stroke-linecap="butt"/>
<line x1="352.80" y1="764.00" x2="395.90" y2="764.00" stroke="#262626" stroke-width="3.5" stroke-linecap="butt"/>
<circle cx="374.50" cy="699.20" r="10.10" fill="#262626"/>
<rect x="364.65" y="720.35" width="20.30" height="20.30" fill="#262626"/>
<polygon points="374.80,754.20 384.90,774.40 364.70,774.40" fill="#262626"/>
<text x="420.78" y="710.80" font-size="29.09" textLength="126.51" lengthAdjust="spacingAndGlyphs" fill="#262626" stroke="#262626" stroke-width="1.0" stroke-linejoin="round">GST-bZIP</text>
<text x="420.78" y="742.20" font-size="29.82" textLength="82.19" lengthAdjust="spacingAndGlyphs" fill="#262626" stroke="#262626" stroke-width="1.0" stroke-linejoin="round">GST-b</text>
<text x="420.87" y="775.50" font-size="30.69" textLength="52.90" lengthAdjust="spacingAndGlyphs" fill="#262626" stroke="#262626" stroke-width="1.0" stroke-linejoin="round">GST</text>
<line x1="783.00" y1="525.20" x2="783.00" y2="855.40" stroke="#262626" stroke-width="3.2" stroke-linecap="butt"/>
<line x1="771.80" y1="526.70" x2="784.50" y2="526.70" stroke="#262626" stroke-width="3.2" stroke-linecap="butt"/>
<text x="722.01" y="536.70" font-size="24.73" textLength="45.20" lengthAdjust="spacingAndGlyphs" fill="#222" stroke="#222" stroke-width="1.0" stroke-linejoin="round">150</text>
<line x1="771.80" y1="581.24" x2="784.50" y2="581.24" stroke="#262626" stroke-width="3.2" stroke-linecap="butt"/>
<text x="722.02" y="591.24" font-size="24.73" textLength="44.85" lengthAdjust="spacingAndGlyphs" fill="#222" stroke="#222" stroke-width="1.0" stroke-linejoin="round">125</text>
<line x1="771.80" y1="635.77" x2="784.50" y2="635.77" stroke="#262626" stroke-width="3.2" stroke-linecap="butt"/>
<text x="722.01" y="645.77" font-size="24.73" textLength="45.20" lengthAdjust="spacingAndGlyphs" fill="#222" stroke="#222" stroke-width="1.0" stroke-linejoin="round">100</text>
<line x1="771.80" y1="690.30" x2="784.50" y2="690.30" stroke="#262626" stroke-width="3.2" stroke-linecap="butt"/>
<text x="738.83" y="700.30" font-size="24.73" textLength="28.02" lengthAdjust="spacingAndGlyphs" fill="#222" stroke="#222" stroke-width="1.0" stroke-linejoin="round">75</text>
<line x1="771.80" y1="744.84" x2="784.50" y2="744.84" stroke="#262626" stroke-width="3.2" stroke-linecap="butt"/>
<text x="739.14" y="754.84" font-size="24.73" textLength="28.02" lengthAdjust="spacingAndGlyphs" fill="#222" stroke="#222" stroke-width="1.0" stroke-linejoin="round">50</text>
<line x1="771.80" y1="799.37" x2="784.50" y2="799.37" stroke="#262626" stroke-width="3.2" stroke-linecap="butt"/>
<text x="739.02" y="809.37" font-size="24.73" textLength="27.82" lengthAdjust="spacingAndGlyphs" fill="#222" stroke="#222" stroke-width="1.0" stroke-linejoin="round">25</text>
<line x1="771.80" y1="853.90" x2="784.50" y2="853.90" stroke="#262626" stroke-width="3.2" stroke-linecap="butt"/>
<text x="752.66" y="863.90" font-size="24.73" textLength="14.52" lengthAdjust="spacingAndGlyphs" fill="#222" stroke="#222" stroke-width="1.0" stroke-linejoin="round">0</text>
<line x1="783.00" y1="853.90" x2="1194.60" y2="853.90" stroke="#262626" stroke-width="3.2" stroke-linecap="butt"/>
<line x1="783.00" y1="853.90" x2="783.00" y2="865.70" stroke="#262626" stroke-width="3.2" stroke-linecap="butt"/>
<text x="775.70" y="898.60" font-size="25.16" textLength="14.64" lengthAdjust="spacingAndGlyphs" fill="#222" stroke="#222" stroke-width="1.0" stroke-linejoin="round">0</text>
<line x1="885.50" y1="853.90" x2="885.50" y2="865.70" stroke="#262626" stroke-width="3.2" stroke-linecap="butt"/>
<text x="878.46" y="898.60" font-size="25.16" textLength="13.28" lengthAdjust="spacingAndGlyphs" fill="#222" stroke="#222" stroke-width="1.0" stroke-linejoin="round">1</text>
<line x1="988.00" y1="853.90" x2="988.00" y2="865.70" stroke="#262626" stroke-width="3.2" stroke-linecap="butt"/>
<text x="981.01" y="898.60" font-size="25.16" textLength="14.14" lengthAdjust="spacingAndGlyphs" fill="#222" stroke="#222" stroke-width="1.0" stroke-linejoin="round">2</text>
<line x1="1090.50" y1="853.90" x2="1090.50" y2="865.70" stroke="#262626" stroke-width="3.2" stroke-linecap="butt"/>
<text x="1083.85" y="898.60" font-size="25.16" textLength="13.64" lengthAdjust="spacingAndGlyphs" fill="#222" stroke="#222" stroke-width="1.0" stroke-linejoin="round">3</text>
<line x1="1193.00" y1="853.90" x2="1193.00" y2="865.70" stroke="#262626" stroke-width="3.2" stroke-linecap="butt"/>
<text x="1186.35" y="898.60" font-size="25.16" textLength="13.10" lengthAdjust="spacingAndGlyphs" fill="#222" stroke="#222" stroke-width="1.0" stroke-linejoin="round">4</text>
<text x="866.34" y="943.70" font-size="30.11" textLength="242.35" lengthAdjust="spacingAndGlyphs" fill="#000" stroke="#000" stroke-width="1.0" stroke-linejoin="round">Competitor (nM)</text>
<text transform="translate(697.10,769.50) rotate(-90)" x="-1.98" y="0" font-size="30.69" textLength="163.23" lengthAdjust="spacingAndGlyphs" fill="#000" stroke="#000" stroke-width="1.0" stroke-linejoin="round">Binding (%)</text>
<text x="963.69" y="563.40" font-size="29.96" textLength="195.51" lengthAdjust="spacingAndGlyphs" fill="#000" stroke="#000" stroke-width="1.0" stroke-linejoin="round">Consensus BS</text>
<text x="961.00" y="605.20" font-size="30.55" textLength="17.13" lengthAdjust="spacingAndGlyphs" fill="#000" stroke="#000" stroke-width="1.0" stroke-linejoin="round">K</text>
<text x="978.88" y="613.70" font-size="20.65" textLength="4.85" lengthAdjust="spacingAndGlyphs" fill="#000" stroke="#000" stroke-width="1.0" stroke-linejoin="round">i</text>
<text x="993.83" y="605.20" font-size="30.55" textLength="14.72" lengthAdjust="spacingAndGlyphs" fill="#000" stroke="#000" stroke-width="1.0" stroke-linejoin="round">=</text>
<text x="1018.65" y="605.20" font-size="30.69" textLength="33.40" lengthAdjust="spacingAndGlyphs" fill="#000" stroke="#000" stroke-width="1.0" stroke-linejoin="round">27</text>
<text x="1061.52" y="605.20" font-size="30.55" textLength="17.01" lengthAdjust="spacingAndGlyphs" fill="#000" stroke="#000" stroke-width="1.0" stroke-linejoin="round">±</text>
<text x="1089.08" y="605.20" font-size="30.55" textLength="15.59" lengthAdjust="spacingAndGlyphs" fill="#000" stroke="#000" stroke-width="1.0" stroke-linejoin="round">4</text>
<text x="1114.37" y="605.20" font-size="30.55" textLength="47.39" lengthAdjust="spacingAndGlyphs" fill="#000" stroke="#000" stroke-width="1.0" stroke-linejoin="round">nM</text>
<path d="M784.20,594.16 L787.11,594.44 L790.03,594.75 L792.94,595.08 L795.86,595.43 L798.77,595.80 L801.69,596.20 L804.60,596.62 L807.51,597.07 L810.43,597.55 L813.34,598.07 L816.26,598.61 L819.17,599.19 L822.09,599.81 L825.00,600.47 L827.91,601.17 L830.83,601.92 L833.74,602.71 L836.66,603.55 L839.57,604.45 L842.49,605.39 L845.40,606.40 L848.31,607.47 L851.23,608.60 L854.14,609.79 L857.06,611.06 L859.97,612.39 L862.89,613.81 L865.80,615.30 L868.71,616.87 L871.63,618.53 L874.54,620.27 L877.46,622.11 L880.37,624.04 L883.29,626.06 L886.20,628.18 L889.11,630.40 L892.03,632.72 L894.94,635.14 L897.86,637.67 L900.77,640.30 L903.69,643.03 L906.60,645.87 L909.51,648.81 L912.43,651.86 L915.34,655.00 L918.26,658.24 L921.17,661.57 L924.09,665.00 L927.00,668.50 L929.91,672.09 L932.83,675.76 L935.74,679.49 L938.66,683.28 L941.57,687.13 L944.49,691.02 L947.40,694.95 L950.31,698.91 L953.23,702.90 L956.14,706.89 L959.06,710.88 L961.97,714.87 L964.89,718.84 L967.80,722.79 L970.71,726.70 L973.63,730.57 L976.54,734.40 L979.46,738.16 L982.37,741.86 L985.29,745.48 L988.20,749.03 L991.11,752.50 L994.03,755.88 L996.94,759.17 L999.86,762.36 L1002.77,765.45 L1005.69,768.44 L1008.60,771.33 L1011.51,774.12 L1014.43,776.80 L1017.34,779.38 L1020.26,781.86 L1023.17,784.23 L1026.09,786.50 L1029.00,788.67 L1031.91,790.74 L1034.83,792.71 L1037.74,794.59 L1040.66,796.38 L1043.57,798.08 L1046.49,799.70 L1049.40,801.23 L1052.31,802.68 L1055.23,804.06 L1058.14,805.36 L1061.06,806.59 L1063.97,807.75 L1066.89,808.85 L1069.80,809.88 L1072.71,810.86 L1075.63,811.78 L1078.54,812.65 L1081.46,813.46 L1084.37,814.23 L1087.29,814.95 L1090.20,815.63 L1093.11,816.27 L1096.03,816.87 L1098.94,817.43 L1101.86,817.96 L1104.77,818.46 L1107.69,818.93 L1110.60,819.36 L1113.51,819.78 L1116.43,820.16 L1119.34,820.52 L1122.26,820.86 L1125.17,821.18 L1128.09,821.47 L1131.00,821.75" fill="none" stroke="#262626" stroke-width="3.0" stroke-linejoin="round"/>
<line x1="773.00" y1="619.10" x2="793.00" y2="619.10" stroke="#262626" stroke-width="2" stroke-linecap="butt"/>
<line x1="773.00" y1="653.00" x2="793.00" y2="653.00" stroke="#262626" stroke-width="2" stroke-linecap="butt"/>
<line x1="783.00" y1="619.10" x2="783.00" y2="653.00" stroke="#262626" stroke-width="2" stroke-linecap="butt"/>
<line x1="843.90" y1="537.40" x2="863.90" y2="537.40" stroke="#262626" stroke-width="2" stroke-linecap="butt"/>
<line x1="843.90" y1="603.90" x2="863.90" y2="603.90" stroke="#262626" stroke-width="2" stroke-linecap="butt"/>
<line x1="853.90" y1="537.40" x2="853.90" y2="603.90" stroke="#262626" stroke-width="2" stroke-linecap="butt"/>
<line x1="874.60" y1="611.20" x2="894.60" y2="611.20" stroke="#262626" stroke-width="2" stroke-linecap="butt"/>
<line x1="874.60" y1="650.50" x2="894.60" y2="650.50" stroke="#262626" stroke-width="2" stroke-linecap="butt"/>
<line x1="884.60" y1="611.20" x2="884.60" y2="650.50" stroke="#262626" stroke-width="2" stroke-linecap="butt"/>
<line x1="905.00" y1="617.50" x2="925.00" y2="617.50" stroke="#262626" stroke-width="2" stroke-linecap="butt"/>
<line x1="905.00" y1="659.30" x2="925.00" y2="659.30" stroke="#262626" stroke-width="2" stroke-linecap="butt"/>
<line x1="915.00" y1="617.50" x2="915.00" y2="659.30" stroke="#262626" stroke-width="2" stroke-linecap="butt"/>
<line x1="966.50" y1="730.60" x2="986.50" y2="730.60" stroke="#262626" stroke-width="2" stroke-linecap="butt"/>
<line x1="966.50" y1="766.40" x2="986.50" y2="766.40" stroke="#262626" stroke-width="2" stroke-linecap="butt"/>
<line x1="976.50" y1="730.60" x2="976.50" y2="766.40" stroke="#262626" stroke-width="2" stroke-linecap="butt"/>
<line x1="997.50" y1="786.00" x2="1017.50" y2="786.00" stroke="#262626" stroke-width="2" stroke-linecap="butt"/>
<line x1="997.50" y1="819.20" x2="1017.50" y2="819.20" stroke="#262626" stroke-width="2" stroke-linecap="butt"/>
<line x1="1007.50" y1="786.00" x2="1007.50" y2="819.20" stroke="#262626" stroke-width="2" stroke-linecap="butt"/>
<line x1="1028.50" y1="747.00" x2="1048.50" y2="747.00" stroke="#262626" stroke-width="2" stroke-linecap="butt"/>
<line x1="1028.50" y1="791.70" x2="1048.50" y2="791.70" stroke="#262626" stroke-width="2" stroke-linecap="butt"/>
<line x1="1038.50" y1="747.00" x2="1038.50" y2="791.70" stroke="#262626" stroke-width="2" stroke-linecap="butt"/>
<line x1="1059.20" y1="779.70" x2="1079.20" y2="779.70" stroke="#262626" stroke-width="2" stroke-linecap="butt"/>
<line x1="1059.20" y1="839.80" x2="1079.20" y2="839.80" stroke="#262626" stroke-width="2" stroke-linecap="butt"/>
<line x1="1069.20" y1="779.70" x2="1069.20" y2="839.80" stroke="#262626" stroke-width="2" stroke-linecap="butt"/>
<line x1="1090.00" y1="775.90" x2="1110.00" y2="775.90" stroke="#262626" stroke-width="2" stroke-linecap="butt"/>
<line x1="1090.00" y1="816.00" x2="1110.00" y2="816.00" stroke="#262626" stroke-width="2" stroke-linecap="butt"/>
<line x1="1100.00" y1="775.90" x2="1100.00" y2="816.00" stroke="#262626" stroke-width="2" stroke-linecap="butt"/>
<line x1="1121.00" y1="819.20" x2="1141.00" y2="819.20" stroke="#262626" stroke-width="2" stroke-linecap="butt"/>
<line x1="1121.00" y1="853.40" x2="1141.00" y2="853.40" stroke="#262626" stroke-width="2" stroke-linecap="butt"/>
<line x1="1131.00" y1="819.20" x2="1131.00" y2="853.40" stroke="#262626" stroke-width="2" stroke-linecap="butt"/>
<line x1="1121.00" y1="819.20" x2="1141.00" y2="819.20" stroke="#262626" stroke-width="2" stroke-linecap="butt"/>
<circle cx="783.00" cy="636.50" r="10.30" fill="#262626"/>
<circle cx="853.90" cy="570.70" r="10.30" fill="#262626"/>
<circle cx="884.60" cy="630.80" r="10.30" fill="#262626"/>
<circle cx="915.00" cy="638.10" r="10.30" fill="#262626"/>
<circle cx="945.70" cy="689.40" r="10.30" fill="#262626"/>
<circle cx="976.50" cy="748.00" r="10.30" fill="#262626"/>
<circle cx="1007.50" cy="802.80" r="10.30" fill="#262626"/>
<circle cx="1038.50" cy="769.50" r="10.30" fill="#262626"/>
<circle cx="1069.20" cy="810.40" r="10.30" fill="#262626"/>
<circle cx="1100.00" cy="796.10" r="10.30" fill="#262626"/>
<circle cx="1131.00" cy="839.80" r="10.30" fill="#262626"/>
<line x1="141.00" y1="1036.50" x2="141.00" y2="1367.00" stroke="#262626" stroke-width="3.2" stroke-linecap="butt"/>
<line x1="129.80" y1="1038.00" x2="142.50" y2="1038.00" stroke="#262626" stroke-width="3.2" stroke-linecap="butt"/>
<text x="80.02" y="1048.00" font-size="24.73" textLength="44.85" lengthAdjust="spacingAndGlyphs" fill="#222" stroke="#222" stroke-width="1.0" stroke-linejoin="round">125</text>
<line x1="129.80" y1="1103.50" x2="142.50" y2="1103.50" stroke="#262626" stroke-width="3.2" stroke-linecap="butt"/>
<text x="80.01" y="1113.50" font-size="24.73" textLength="45.20" lengthAdjust="spacingAndGlyphs" fill="#222" stroke="#222" stroke-width="1.0" stroke-linejoin="round">100</text>
<line x1="129.80" y1="1169.00" x2="142.50" y2="1169.00" stroke="#262626" stroke-width="3.2" stroke-linecap="butt"/>
<text x="96.83" y="1179.00" font-size="24.73" textLength="28.02" lengthAdjust="spacingAndGlyphs" fill="#222" stroke="#222" stroke-width="1.0" stroke-linejoin="round">75</text>
<line x1="129.80" y1="1234.50" x2="142.50" y2="1234.50" stroke="#262626" stroke-width="3.2" stroke-linecap="butt"/>
<text x="97.14" y="1244.50" font-size="24.73" textLength="28.02" lengthAdjust="spacingAndGlyphs" fill="#222" stroke="#222" stroke-width="1.0" stroke-linejoin="round">50</text>
<line x1="129.80" y1="1300.00" x2="142.50" y2="1300.00" stroke="#262626" stroke-width="3.2" stroke-linecap="butt"/>
<text x="97.02" y="1310.00" font-size="24.73" textLength="27.82" lengthAdjust="spacingAndGlyphs" fill="#222" stroke="#222" stroke-width="1.0" stroke-linejoin="round">25</text>
<line x1="129.80" y1="1365.50" x2="142.50" y2="1365.50" stroke="#262626" stroke-width="3.2" stroke-linecap="butt"/>
<text x="110.66" y="1375.50" font-size="24.73" textLength="14.52" lengthAdjust="spacingAndGlyphs" fill="#222" stroke="#222" stroke-width="1.0" stroke-linejoin="round">0</text>
<line x1="141.00" y1="1365.50" x2="552.60" y2="1365.50" stroke="#262626" stroke-width="3.2" stroke-linecap="butt"/>
<line x1="141.00" y1="1365.50" x2="141.00" y2="1377.30" stroke="#262626" stroke-width="3.2" stroke-linecap="butt"/>
<text x="133.87" y="1410.30" font-size="25.02" textLength="14.28" lengthAdjust="spacingAndGlyphs" fill="#222" stroke="#222" stroke-width="1.0" stroke-linejoin="round">0</text>
<line x1="243.50" y1="1365.50" x2="243.50" y2="1377.30" stroke="#262626" stroke-width="3.2" stroke-linecap="butt"/>
<text x="235.95" y="1410.30" font-size="25.02" textLength="14.23" lengthAdjust="spacingAndGlyphs" fill="#222" stroke="#222" stroke-width="1.0" stroke-linejoin="round">1</text>
<line x1="346.00" y1="1365.50" x2="346.00" y2="1377.30" stroke="#262626" stroke-width="3.2" stroke-linecap="butt"/>
<text x="338.78" y="1410.30" font-size="25.02" textLength="14.60" lengthAdjust="spacingAndGlyphs" fill="#222" stroke="#222" stroke-width="1.0" stroke-linejoin="round">2</text>
<line x1="448.50" y1="1365.50" x2="448.50" y2="1377.30" stroke="#262626" stroke-width="3.2" stroke-linecap="butt"/>
<text x="441.68" y="1410.30" font-size="25.02" textLength="13.97" lengthAdjust="spacingAndGlyphs" fill="#222" stroke="#222" stroke-width="1.0" stroke-linejoin="round">3</text>
<line x1="551.00" y1="1365.50" x2="551.00" y2="1377.30" stroke="#262626" stroke-width="3.2" stroke-linecap="butt"/>
<text x="543.77" y="1410.30" font-size="25.02" textLength="14.24" lengthAdjust="spacingAndGlyphs" fill="#222" stroke="#222" stroke-width="1.0" stroke-linejoin="round">4</text>
<text x="223.74" y="1455.80" font-size="30.11" textLength="242.76" lengthAdjust="spacingAndGlyphs" fill="#000" stroke="#000" stroke-width="1.0" stroke-linejoin="round">Competitor (nM)</text>
<text transform="translate(55.00,1280.70) rotate(-90)" x="-1.98" y="0" font-size="30.69" textLength="163.23" lengthAdjust="spacingAndGlyphs" fill="#000" stroke="#000" stroke-width="1.0" stroke-linejoin="round">Binding (%)</text>
<path d="M141.40,1110.20 L144.13,1110.20 L146.86,1110.20 L149.58,1110.20 L152.31,1110.20 L155.04,1110.20 L157.77,1110.20 L160.49,1110.20 L163.22,1110.21 L165.95,1110.21 L168.68,1110.21 L171.41,1110.21 L174.13,1110.21 L176.86,1110.21 L179.59,1110.21 L182.32,1110.22 L185.04,1110.22 L187.77,1110.22 L190.50,1110.22 L193.23,1110.23 L195.95,1110.23 L198.68,1110.23 L201.41,1110.23 L204.14,1110.24 L206.87,1110.24 L209.59,1110.25 L212.32,1110.25 L215.05,1110.26 L217.78,1110.26 L220.50,1110.27 L223.23,1110.27 L225.96,1110.28 L228.69,1110.29 L231.42,1110.29 L234.14,1110.30 L236.87,1110.31 L239.60,1110.32 L242.33,1110.33 L245.05,1110.34 L247.78,1110.36 L250.51,1110.37 L253.24,1110.38 L255.96,1110.40 L258.69,1110.41 L261.42,1110.43 L264.15,1110.45 L266.88,1110.47 L269.60,1110.49 L272.33,1110.52 L275.06,1110.54 L277.79,1110.57 L280.51,1110.60 L283.24,1110.64 L285.97,1110.67 L288.70,1110.71 L291.43,1110.75 L294.15,1110.80 L296.88,1110.84 L299.61,1110.89 L302.34,1110.95 L305.06,1111.01 L307.79,1111.08 L310.52,1111.15 L313.25,1111.22 L315.97,1111.30 L318.70,1111.39 L321.43,1111.48 L324.16,1111.59 L326.89,1111.70 L329.61,1111.81 L332.34,1111.94 L335.07,1112.08 L337.80,1112.23 L340.52,1112.38 L343.25,1112.55 L345.98,1112.74 L348.71,1112.94 L351.44,1113.15 L354.16,1113.38 L356.89,1113.63 L359.62,1113.89 L362.35,1114.17 L365.07,1114.48 L367.80,1114.81 L370.53,1115.16 L373.26,1115.53 L375.98,1115.94 L378.71,1116.37 L381.44,1116.83 L384.17,1117.33 L386.90,1117.86 L389.62,1118.42 L392.35,1119.03 L395.08,1119.67 L397.81,1120.36 L400.53,1121.09 L403.26,1121.86 L405.99,1122.69 L408.72,1123.57 L411.45,1124.50 L414.17,1125.48 L416.90,1126.52 L419.63,1127.61 L422.36,1128.77 L425.08,1129.99 L427.81,1131.27 L430.54,1132.61 L433.27,1134.01 L435.99,1135.48 L438.72,1137.01 L441.45,1138.60 L444.18,1140.26 L446.91,1141.97 L449.63,1143.74 L452.36,1145.56 L455.09,1147.44 L457.82,1149.36 L460.54,1151.33 L463.27,1153.34 L466.00,1155.39" fill="none" stroke="#262626" stroke-width="3.0" stroke-linejoin="round"/>
<path d="M141.40,1110.61 L144.13,1110.61 L146.86,1110.61 L149.58,1110.61 L152.31,1110.61 L155.04,1110.61 L157.77,1110.61 L160.49,1110.62 L163.22,1110.62 L165.95,1110.62 L168.68,1110.62 L171.41,1110.62 L174.13,1110.62 L176.86,1110.62 L179.59,1110.63 L182.32,1110.63 L185.04,1110.63 L187.77,1110.63 L190.50,1110.64 L193.23,1110.64 L195.95,1110.64 L198.68,1110.65 L201.41,1110.65 L204.14,1110.65 L206.87,1110.66 L209.59,1110.66 L212.32,1110.67 L215.05,1110.67 L217.78,1110.68 L220.50,1110.68 L223.23,1110.69 L225.96,1110.70 L228.69,1110.71 L231.42,1110.71 L234.14,1110.72 L236.87,1110.73 L239.60,1110.74 L242.33,1110.76 L245.05,1110.77 L247.78,1110.78 L250.51,1110.80 L253.24,1110.81 L255.96,1110.83 L258.69,1110.85 L261.42,1110.87 L264.15,1110.89 L266.88,1110.91 L269.60,1110.93 L272.33,1110.96 L275.06,1110.99 L277.79,1111.02 L280.51,1111.05 L283.24,1111.09 L285.97,1111.13 L288.70,1111.17 L291.43,1111.21 L294.15,1111.26 L296.88,1111.32 L299.61,1111.37 L302.34,1111.43 L305.06,1111.50 L307.79,1111.57 L310.52,1111.65 L313.25,1111.73 L315.97,1111.82 L318.70,1111.91 L321.43,1112.02 L324.16,1112.13 L326.89,1112.25 L329.61,1112.38 L332.34,1112.52 L335.07,1112.67 L337.80,1112.83 L340.52,1113.00 L343.25,1113.19 L345.98,1113.39 L348.71,1113.60 L351.44,1113.84 L354.16,1114.09 L356.89,1114.36 L359.62,1114.64 L362.35,1114.95 L365.07,1115.29 L367.80,1115.64 L370.53,1116.02 L373.26,1116.43 L375.98,1116.87 L378.71,1117.34 L381.44,1117.85 L384.17,1118.38 L386.90,1118.96 L389.62,1119.57 L392.35,1120.22 L395.08,1120.92 L397.81,1121.66 L400.53,1122.45 L403.26,1123.29 L405.99,1124.18 L408.72,1125.12 L411.45,1126.12 L414.17,1127.18 L416.90,1128.29 L419.63,1129.47 L422.36,1130.70 L425.08,1132.00 L427.81,1133.36 L430.54,1134.79 L433.27,1136.28 L435.99,1137.83 L438.72,1139.45 L441.45,1141.13 L444.18,1142.87 L446.91,1144.67 L449.63,1146.52 L452.36,1148.43 L455.09,1150.38 L457.82,1152.38 L460.54,1154.42 L463.27,1156.50 L466.00,1158.61" fill="none" stroke="#262626" stroke-width="2.6" stroke-linejoin="round"/>
<path d="M141.40,1111.85 L144.13,1111.94 L146.86,1112.04 L149.58,1112.14 L152.31,1112.25 L155.04,1112.37 L157.77,1112.49 L160.49,1112.63 L163.22,1112.77 L165.95,1112.92 L168.68,1113.08 L171.41,1113.25 L174.13,1113.42 L176.86,1113.62 L179.59,1113.82 L182.32,1114.03 L185.04,1114.26 L187.77,1114.51 L190.50,1114.76 L193.23,1115.04 L195.95,1115.33 L198.68,1115.64 L201.41,1115.96 L204.14,1116.31 L206.87,1116.68 L209.59,1117.07 L212.32,1117.48 L215.05,1117.92 L217.78,1118.39 L220.50,1118.88 L223.23,1119.40 L225.96,1119.96 L228.69,1120.54 L231.42,1121.16 L234.14,1121.82 L236.87,1122.51 L239.60,1123.24 L242.33,1124.02 L245.05,1124.84 L247.78,1125.70 L250.51,1126.61 L253.24,1127.57 L255.96,1128.59 L258.69,1129.66 L261.42,1130.78 L264.15,1131.97 L266.88,1133.21 L269.60,1134.52 L272.33,1135.90 L275.06,1137.34 L277.79,1138.86 L280.51,1140.45 L283.24,1142.11 L285.97,1143.85 L288.70,1145.67 L291.43,1147.57 L294.15,1149.55 L296.88,1151.62 L299.61,1153.77 L302.34,1156.00 L305.06,1158.33 L307.79,1160.74 L310.52,1163.23 L313.25,1165.81 L315.97,1168.48 L318.70,1171.24 L321.43,1174.07 L324.16,1176.99 L326.89,1179.99 L329.61,1183.06 L332.34,1186.21 L335.07,1189.43 L337.80,1192.71 L340.52,1196.05 L343.25,1199.45 L345.98,1202.90 L348.71,1206.40 L351.44,1209.93 L354.16,1213.50 L356.89,1217.10 L359.62,1220.71 L362.35,1224.34 L365.07,1227.98 L367.80,1231.61 L370.53,1235.24 L373.26,1238.85 L375.98,1242.44 L378.71,1246.00 L381.44,1249.53 L384.17,1253.01 L386.90,1256.45 L389.62,1259.84 L392.35,1263.17 L395.08,1266.44 L397.81,1269.64 L400.53,1272.77 L403.26,1275.83 L405.99,1278.81 L408.72,1281.71 L411.45,1284.52 L414.17,1287.26 L416.90,1289.91 L419.63,1292.47 L422.36,1294.95 L425.08,1297.34 L427.81,1299.64 L430.54,1301.86 L433.27,1303.99 L435.99,1306.04 L438.72,1308.00 L441.45,1309.88 L444.18,1311.68 L446.91,1313.41 L449.63,1315.05 L452.36,1316.62 L455.09,1318.12 L457.82,1319.55 L460.54,1320.92 L463.27,1322.21 L466.00,1323.44" fill="none" stroke="#262626" stroke-width="3.0" stroke-linejoin="round"/>
<line x1="131.40" y1="1087.70" x2="151.40" y2="1087.70" stroke="#262626" stroke-width="2" stroke-linecap="butt"/>
<line x1="131.40" y1="1117.20" x2="151.40" y2="1117.20" stroke="#262626" stroke-width="2" stroke-linecap="butt"/>
<line x1="141.40" y1="1087.70" x2="141.40" y2="1117.20" stroke="#262626" stroke-width="2" stroke-linecap="butt"/>
<line x1="131.40" y1="1091.40" x2="151.40" y2="1091.40" stroke="#262626" stroke-width="2" stroke-linecap="butt"/>
<line x1="131.40" y1="1120.40" x2="151.40" y2="1120.40" stroke="#262626" stroke-width="2" stroke-linecap="butt"/>
<line x1="141.40" y1="1091.40" x2="141.40" y2="1120.40" stroke="#262626" stroke-width="2" stroke-linecap="butt"/>
<line x1="210.00" y1="1066.90" x2="230.00" y2="1066.90" stroke="#262626" stroke-width="2" stroke-linecap="butt"/>
<line x1="210.00" y1="1168.00" x2="230.00" y2="1168.00" stroke="#262626" stroke-width="2" stroke-linecap="butt"/>
<line x1="220.00" y1="1066.90" x2="220.00" y2="1168.00" stroke="#262626" stroke-width="2" stroke-linecap="butt"/>
<line x1="210.00" y1="1091.50" x2="230.00" y2="1091.50" stroke="#262626" stroke-width="2" stroke-linecap="butt"/>
<line x1="210.00" y1="1170.40" x2="230.00" y2="1170.40" stroke="#262626" stroke-width="2" stroke-linecap="butt"/>
<line x1="220.00" y1="1091.50" x2="220.00" y2="1170.40" stroke="#262626" stroke-width="2" stroke-linecap="butt"/>
<line x1="240.90" y1="1078.00" x2="260.90" y2="1078.00" stroke="#262626" stroke-width="2" stroke-linecap="butt"/>
<line x1="240.90" y1="1167.40" x2="260.90" y2="1167.40" stroke="#262626" stroke-width="2" stroke-linecap="butt"/>
<line x1="250.90" y1="1078.00" x2="250.90" y2="1167.40" stroke="#262626" stroke-width="2" stroke-linecap="butt"/>
<line x1="240.90" y1="1083.40" x2="260.90" y2="1083.40" stroke="#262626" stroke-width="2" stroke-linecap="butt"/>
<line x1="240.90" y1="1140.00" x2="260.90" y2="1140.00" stroke="#262626" stroke-width="2" stroke-linecap="butt"/>
<line x1="250.90" y1="1083.40" x2="250.90" y2="1140.00" stroke="#262626" stroke-width="2" stroke-linecap="butt"/>
<line x1="271.50" y1="1081.00" x2="291.50" y2="1081.00" stroke="#262626" stroke-width="2" stroke-linecap="butt"/>
<line x1="271.50" y1="1168.00" x2="291.50" y2="1168.00" stroke="#262626" stroke-width="2" stroke-linecap="butt"/>
<line x1="281.50" y1="1081.00" x2="281.50" y2="1168.00" stroke="#262626" stroke-width="2" stroke-linecap="butt"/>
<line x1="271.50" y1="1083.40" x2="291.50" y2="1083.40" stroke="#262626" stroke-width="2" stroke-linecap="butt"/>
<line x1="271.50" y1="1177.00" x2="291.50" y2="1177.00" stroke="#262626" stroke-width="2" stroke-linecap="butt"/>
<line x1="281.50" y1="1083.40" x2="281.50" y2="1177.00" stroke="#262626" stroke-width="2" stroke-linecap="butt"/>
<line x1="302.40" y1="1093.00" x2="322.40" y2="1093.00" stroke="#262626" stroke-width="2" stroke-linecap="butt"/>
<line x1="302.40" y1="1134.40" x2="322.40" y2="1134.40" stroke="#262626" stroke-width="2" stroke-linecap="butt"/>
<line x1="312.40" y1="1093.00" x2="312.40" y2="1134.40" stroke="#262626" stroke-width="2" stroke-linecap="butt"/>
<line x1="302.40" y1="1134.40" x2="322.40" y2="1134.40" stroke="#262626" stroke-width="2" stroke-linecap="butt"/>
<line x1="302.40" y1="1215.10" x2="322.40" y2="1215.10" stroke="#262626" stroke-width="2" stroke-linecap="butt"/>
<line x1="312.40" y1="1134.40" x2="312.40" y2="1215.10" stroke="#262626" stroke-width="2" stroke-linecap="butt"/>
<line x1="333.60" y1="1085.50" x2="353.60" y2="1085.50" stroke="#262626" stroke-width="2" stroke-linecap="butt"/>
<line x1="333.60" y1="1162.00" x2="353.60" y2="1162.00" stroke="#262626" stroke-width="2" stroke-linecap="butt"/>
<line x1="343.60" y1="1085.50" x2="343.60" y2="1162.00" stroke="#262626" stroke-width="2" stroke-linecap="butt"/>
<line x1="333.60" y1="1088.50" x2="353.60" y2="1088.50" stroke="#262626" stroke-width="2" stroke-linecap="butt"/>
<line x1="333.60" y1="1166.50" x2="353.60" y2="1166.50" stroke="#262626" stroke-width="2" stroke-linecap="butt"/>
<line x1="343.60" y1="1088.50" x2="343.60" y2="1166.50" stroke="#262626" stroke-width="2" stroke-linecap="butt"/>
<line x1="333.60" y1="1184.50" x2="353.60" y2="1184.50" stroke="#262626" stroke-width="2" stroke-linecap="butt"/>
<line x1="333.60" y1="1257.40" x2="353.60" y2="1257.40" stroke="#262626" stroke-width="2" stroke-linecap="butt"/>
<line x1="343.60" y1="1184.50" x2="343.60" y2="1257.40" stroke="#262626" stroke-width="2" stroke-linecap="butt"/>
<line x1="364.50" y1="1070.50" x2="384.50" y2="1070.50" stroke="#262626" stroke-width="2" stroke-linecap="butt"/>
<line x1="364.50" y1="1110.00" x2="384.50" y2="1110.00" stroke="#262626" stroke-width="2" stroke-linecap="butt"/>
<line x1="374.50" y1="1070.50" x2="374.50" y2="1110.00" stroke="#262626" stroke-width="2" stroke-linecap="butt"/>
<line x1="364.50" y1="1073.50" x2="384.50" y2="1073.50" stroke="#262626" stroke-width="2" stroke-linecap="butt"/>
<line x1="364.50" y1="1110.00" x2="384.50" y2="1110.00" stroke="#262626" stroke-width="2" stroke-linecap="butt"/>
<line x1="374.50" y1="1073.50" x2="374.50" y2="1110.00" stroke="#262626" stroke-width="2" stroke-linecap="butt"/>
<line x1="364.50" y1="1207.60" x2="384.50" y2="1207.60" stroke="#262626" stroke-width="2" stroke-linecap="butt"/>
<line x1="364.50" y1="1267.00" x2="384.50" y2="1267.00" stroke="#262626" stroke-width="2" stroke-linecap="butt"/>
<line x1="374.50" y1="1207.60" x2="374.50" y2="1267.00" stroke="#262626" stroke-width="2" stroke-linecap="butt"/>
<line x1="394.50" y1="1088.50" x2="414.50" y2="1088.50" stroke="#262626" stroke-width="2" stroke-linecap="butt"/>
<line x1="394.50" y1="1166.50" x2="414.50" y2="1166.50" stroke="#262626" stroke-width="2" stroke-linecap="butt"/>
<line x1="404.50" y1="1088.50" x2="404.50" y2="1166.50" stroke="#262626" stroke-width="2" stroke-linecap="butt"/>
<line x1="394.50" y1="1088.50" x2="414.50" y2="1088.50" stroke="#262626" stroke-width="2" stroke-linecap="butt"/>
<line x1="394.50" y1="1168.60" x2="414.50" y2="1168.60" stroke="#262626" stroke-width="2" stroke-linecap="butt"/>
<line x1="404.50" y1="1088.50" x2="404.50" y2="1168.60" stroke="#262626" stroke-width="2" stroke-linecap="butt"/>
<line x1="394.50" y1="1255.00" x2="414.50" y2="1255.00" stroke="#262626" stroke-width="2" stroke-linecap="butt"/>
<line x1="394.50" y1="1336.60" x2="414.50" y2="1336.60" stroke="#262626" stroke-width="2" stroke-linecap="butt"/>
<line x1="404.50" y1="1255.00" x2="404.50" y2="1336.60" stroke="#262626" stroke-width="2" stroke-linecap="butt"/>
<line x1="425.40" y1="1070.00" x2="445.40" y2="1070.00" stroke="#262626" stroke-width="2" stroke-linecap="butt"/>
<line x1="425.40" y1="1152.40" x2="445.40" y2="1152.40" stroke="#262626" stroke-width="2" stroke-linecap="butt"/>
<line x1="435.40" y1="1070.00" x2="435.40" y2="1152.40" stroke="#262626" stroke-width="2" stroke-linecap="butt"/>
<line x1="425.40" y1="1082.50" x2="445.40" y2="1082.50" stroke="#262626" stroke-width="2" stroke-linecap="butt"/>
<line x1="425.40" y1="1152.40" x2="445.40" y2="1152.40" stroke="#262626" stroke-width="2" stroke-linecap="butt"/>
<line x1="435.40" y1="1082.50" x2="435.40" y2="1152.40" stroke="#262626" stroke-width="2" stroke-linecap="butt"/>
<line x1="425.40" y1="1241.50" x2="445.40" y2="1241.50" stroke="#262626" stroke-width="2" stroke-linecap="butt"/>
<line x1="425.40" y1="1310.50" x2="445.40" y2="1310.50" stroke="#262626" stroke-width="2" stroke-linecap="butt"/>
<line x1="435.40" y1="1241.50" x2="435.40" y2="1310.50" stroke="#262626" stroke-width="2" stroke-linecap="butt"/>
<line x1="456.00" y1="1143.40" x2="476.00" y2="1143.40" stroke="#262626" stroke-width="2" stroke-linecap="butt"/>
<line x1="456.00" y1="1183.00" x2="476.00" y2="1183.00" stroke="#262626" stroke-width="2" stroke-linecap="butt"/>
<line x1="466.00" y1="1143.40" x2="466.00" y2="1183.00" stroke="#262626" stroke-width="2" stroke-linecap="butt"/>
<line x1="456.00" y1="1156.00" x2="476.00" y2="1156.00" stroke="#262626" stroke-width="2" stroke-linecap="butt"/>
<line x1="456.00" y1="1186.00" x2="476.00" y2="1186.00" stroke="#262626" stroke-width="2" stroke-linecap="butt"/>
<line x1="466.00" y1="1156.00" x2="466.00" y2="1186.00" stroke="#262626" stroke-width="2" stroke-linecap="butt"/>
<line x1="456.00" y1="1337.50" x2="476.00" y2="1337.50" stroke="#262626" stroke-width="2" stroke-linecap="butt"/>
<line x1="456.00" y1="1358.50" x2="476.00" y2="1358.50" stroke="#262626" stroke-width="2" stroke-linecap="butt"/>
<line x1="466.00" y1="1337.50" x2="466.00" y2="1358.50" stroke="#262626" stroke-width="2" stroke-linecap="butt"/>
<polygon points="220.00,1088.25 229.75,1106.75 210.25,1106.75" fill="#d4d4d4" stroke="#262626" stroke-width="1.8" stroke-linejoin="miter"/>
<polygon points="250.90,1080.75 260.65,1099.25 241.15,1099.25" fill="#d4d4d4" stroke="#262626" stroke-width="1.8" stroke-linejoin="miter"/>
<polygon points="281.50,1122.75 291.25,1141.25 271.75,1141.25" fill="#d4d4d4" stroke="#262626" stroke-width="1.8" stroke-linejoin="miter"/>
<polygon points="343.60,1124.25 353.35,1142.75 333.85,1142.75" fill="#d4d4d4" stroke="#262626" stroke-width="1.8" stroke-linejoin="miter"/>
<polygon points="374.50,1076.25 384.25,1094.75 364.75,1094.75" fill="#d4d4d4" stroke="#262626" stroke-width="1.8" stroke-linejoin="miter"/>
<polygon points="404.50,1143.75 414.25,1162.25 394.75,1162.25" fill="#d4d4d4" stroke="#262626" stroke-width="1.8" stroke-linejoin="miter"/>
<polygon points="435.40,1088.25 445.15,1106.75 425.65,1106.75" fill="#d4d4d4" stroke="#262626" stroke-width="1.8" stroke-linejoin="miter"/>
<polygon points="466.00,1150.75 475.75,1169.25 456.25,1169.25" fill="#d4d4d4" stroke="#262626" stroke-width="1.8" stroke-linejoin="miter"/>
<polygon points="141.40,1094.25 151.15,1112.75 131.65,1112.75" fill="#d4d4d4" stroke="#262626" stroke-width="1.8" stroke-linejoin="miter"/>
<circle cx="141.40" cy="1103.50" r="10.20" fill="#d4d4d4" stroke="#262626" stroke-width="1.8"/>
<circle cx="220.00" cy="1130.50" r="10.20" fill="#d4d4d4" stroke="#262626" stroke-width="1.8"/>
<circle cx="250.90" cy="1108.60" r="10.20" fill="#d4d4d4" stroke="#262626" stroke-width="1.8"/>
<circle cx="312.40" cy="1111.60" r="10.20" fill="#d4d4d4" stroke="#262626" stroke-width="1.8"/>
<circle cx="343.60" cy="1123.60" r="10.20" fill="#d4d4d4" stroke="#262626" stroke-width="1.8"/>
<circle cx="374.50" cy="1094.50" r="10.20" fill="#d4d4d4" stroke="#262626" stroke-width="1.8"/>
<circle cx="404.50" cy="1127.50" r="10.20" fill="#d4d4d4" stroke="#262626" stroke-width="1.8"/>
<circle cx="435.40" cy="1117.60" r="10.20" fill="#d4d4d4" stroke="#262626" stroke-width="1.8"/>
<circle cx="466.00" cy="1170.40" r="10.20" fill="#d4d4d4" stroke="#262626" stroke-width="1.8"/>
<circle cx="141.40" cy="1103.50" r="10.30" fill="#262626"/>
<circle cx="220.00" cy="1115.50" r="10.30" fill="#262626"/>
<circle cx="250.90" cy="1141.60" r="10.30" fill="#262626"/>
<circle cx="281.50" cy="1126.00" r="10.30" fill="#262626"/>
<circle cx="312.40" cy="1175.50" r="10.30" fill="#262626"/>
<circle cx="343.60" cy="1220.50" r="10.30" fill="#262626"/>
<circle cx="374.50" cy="1236.40" r="10.30" fill="#262626"/>
<circle cx="404.50" cy="1295.50" r="10.30" fill="#262626"/>
<circle cx="435.40" cy="1276.00" r="10.30" fill="#262626"/>
<circle cx="466.00" cy="1347.10" r="10.30" fill="#262626"/>
<line x1="159.50" y1="1267.10" x2="203.00" y2="1267.10" stroke="#262626" stroke-width="3.6" stroke-linecap="butt"/>
<line x1="159.50" y1="1302.70" x2="203.00" y2="1302.70" stroke="#262626" stroke-width="3.6" stroke-linecap="butt"/>
<line x1="159.50" y1="1337.60" x2="203.00" y2="1337.60" stroke="#262626" stroke-width="3.6" stroke-linecap="butt"/>
<circle cx="181.70" cy="1267.10" r="10.30" fill="#262626"/>
<circle cx="181.70" cy="1302.70" r="10.20" fill="#d4d4d4" stroke="#262626" stroke-width="1.8"/>
<polygon points="181.70,1328.50 191.80,1348.10 171.60,1348.10" fill="#d4d4d4" stroke="#262626" stroke-width="1.8" stroke-linejoin="miter"/>
<text x="229.52" y="1278.50" font-size="29.24" textLength="49.79" lengthAdjust="spacingAndGlyphs" fill="#262626" stroke="#262626" stroke-width="1.0" stroke-linejoin="round">BS1</text>
<text x="229.01" y="1314.20" font-size="29.67" textLength="78.21" lengthAdjust="spacingAndGlyphs" fill="#262626" stroke="#262626" stroke-width="1.0" stroke-linejoin="round">mBS1</text>
<text x="229.10" y="1349.60" font-size="29.53" textLength="105.01" lengthAdjust="spacingAndGlyphs" fill="#262626" stroke="#262626" stroke-width="1.0" stroke-linejoin="round">T7791C</text>
<line x1="783.00" y1="1035.00" x2="783.00" y2="1365.20" stroke="#262626" stroke-width="3.2" stroke-linecap="butt"/>
<line x1="771.80" y1="1036.50" x2="784.50" y2="1036.50" stroke="#262626" stroke-width="3.2" stroke-linecap="butt"/>
<text x="722.02" y="1046.50" font-size="24.73" textLength="44.85" lengthAdjust="spacingAndGlyphs" fill="#222" stroke="#222" stroke-width="1.0" stroke-linejoin="round">125</text>
<line x1="771.80" y1="1101.94" x2="784.50" y2="1101.94" stroke="#262626" stroke-width="3.2" stroke-linecap="butt"/>
<text x="722.01" y="1111.94" font-size="24.73" textLength="45.20" lengthAdjust="spacingAndGlyphs" fill="#222" stroke="#222" stroke-width="1.0" stroke-linejoin="round">100</text>
<line x1="771.80" y1="1167.38" x2="784.50" y2="1167.38" stroke="#262626" stroke-width="3.2" stroke-linecap="butt"/>
<text x="738.83" y="1177.38" font-size="24.73" textLength="28.02" lengthAdjust="spacingAndGlyphs" fill="#222" stroke="#222" stroke-width="1.0" stroke-linejoin="round">75</text>
<line x1="771.80" y1="1232.82" x2="784.50" y2="1232.82" stroke="#262626" stroke-width="3.2" stroke-linecap="butt"/>
<text x="739.14" y="1242.82" font-size="24.73" textLength="28.02" lengthAdjust="spacingAndGlyphs" fill="#222" stroke="#222" stroke-width="1.0" stroke-linejoin="round">50</text>
<line x1="771.80" y1="1298.26" x2="784.50" y2="1298.26" stroke="#262626" stroke-width="3.2" stroke-linecap="butt"/>
<text x="739.02" y="1308.26" font-size="24.73" textLength="27.82" lengthAdjust="spacingAndGlyphs" fill="#222" stroke="#222" stroke-width="1.0" stroke-linejoin="round">25</text>
<line x1="771.80" y1="1363.70" x2="784.50" y2="1363.70" stroke="#262626" stroke-width="3.2" stroke-linecap="butt"/>
<text x="752.66" y="1373.70" font-size="24.73" textLength="14.52" lengthAdjust="spacingAndGlyphs" fill="#222" stroke="#222" stroke-width="1.0" stroke-linejoin="round">0</text>
<line x1="783.00" y1="1363.70" x2="1194.60" y2="1363.70" stroke="#262626" stroke-width="3.2" stroke-linecap="butt"/>
<line x1="783.00" y1="1363.70" x2="783.00" y2="1375.50" stroke="#262626" stroke-width="3.2" stroke-linecap="butt"/>
<text x="775.70" y="1408.40" font-size="25.16" textLength="14.64" lengthAdjust="spacingAndGlyphs" fill="#222" stroke="#222" stroke-width="1.0" stroke-linejoin="round">0</text>
<line x1="885.50" y1="1363.70" x2="885.50" y2="1375.50" stroke="#262626" stroke-width="3.2" stroke-linecap="butt"/>
<text x="878.46" y="1408.40" font-size="25.16" textLength="13.28" lengthAdjust="spacingAndGlyphs" fill="#222" stroke="#222" stroke-width="1.0" stroke-linejoin="round">1</text>
<line x1="988.00" y1="1363.70" x2="988.00" y2="1375.50" stroke="#262626" stroke-width="3.2" stroke-linecap="butt"/>
<text x="981.01" y="1408.40" font-size="25.16" textLength="14.14" lengthAdjust="spacingAndGlyphs" fill="#222" stroke="#222" stroke-width="1.0" stroke-linejoin="round">2</text>
<line x1="1090.50" y1="1363.70" x2="1090.50" y2="1375.50" stroke="#262626" stroke-width="3.2" stroke-linecap="butt"/>
<text x="1083.85" y="1408.40" font-size="25.16" textLength="13.64" lengthAdjust="spacingAndGlyphs" fill="#222" stroke="#222" stroke-width="1.0" stroke-linejoin="round">3</text>
<line x1="1193.00" y1="1363.70" x2="1193.00" y2="1375.50" stroke="#262626" stroke-width="3.2" stroke-linecap="butt"/>
<text x="1186.35" y="1408.40" font-size="25.16" textLength="13.10" lengthAdjust="spacingAndGlyphs" fill="#222" stroke="#222" stroke-width="1.0" stroke-linejoin="round">4</text>
<text x="866.34" y="1455.80" font-size="30.11" textLength="242.35" lengthAdjust="spacingAndGlyphs" fill="#000" stroke="#000" stroke-width="1.0" stroke-linejoin="round">Competitor (nM)</text>
<text transform="translate(697.10,1279.50) rotate(-90)" x="-1.98" y="0" font-size="30.69" textLength="163.23" lengthAdjust="spacingAndGlyphs" fill="#000" stroke="#000" stroke-width="1.0" stroke-linejoin="round">Binding (%)</text>
<path d="M782.90,1095.51 L785.64,1095.52 L788.37,1095.52 L791.11,1095.53 L793.84,1095.53 L796.58,1095.53 L799.31,1095.54 L802.05,1095.55 L804.78,1095.55 L807.52,1095.56 L810.25,1095.56 L812.99,1095.57 L815.72,1095.58 L818.46,1095.58 L821.19,1095.59 L823.93,1095.60 L826.66,1095.61 L829.40,1095.62 L832.14,1095.63 L834.87,1095.64 L837.61,1095.65 L840.34,1095.67 L843.08,1095.68 L845.81,1095.70 L848.55,1095.71 L851.28,1095.73 L854.02,1095.74 L856.75,1095.76 L859.49,1095.78 L862.22,1095.80 L864.96,1095.83 L867.69,1095.85 L870.43,1095.88 L873.16,1095.90 L875.90,1095.93 L878.64,1095.96 L881.37,1096.00 L884.11,1096.03 L886.84,1096.07 L889.58,1096.11 L892.31,1096.15 L895.05,1096.20 L897.78,1096.24 L900.52,1096.30 L903.25,1096.35 L905.99,1096.41 L908.72,1096.47 L911.46,1096.54 L914.19,1096.61 L916.93,1096.68 L919.66,1096.76 L922.40,1096.84 L925.14,1096.93 L927.87,1097.03 L930.61,1097.13 L933.34,1097.24 L936.08,1097.36 L938.81,1097.48 L941.55,1097.61 L944.28,1097.75 L947.02,1097.90 L949.75,1098.06 L952.49,1098.22 L955.22,1098.40 L957.96,1098.59 L960.69,1098.79 L963.43,1099.00 L966.16,1099.23 L968.90,1099.47 L971.64,1099.73 L974.37,1100.00 L977.11,1100.29 L979.84,1100.60 L982.58,1100.92 L985.31,1101.27 L988.05,1101.63 L990.78,1102.02 L993.52,1102.43 L996.25,1102.87 L998.99,1103.33 L1001.72,1103.82 L1004.46,1104.33 L1007.19,1104.88 L1009.93,1105.46 L1012.66,1106.07 L1015.40,1106.71 L1018.14,1107.39 L1020.87,1108.11 L1023.61,1108.87 L1026.34,1109.67 L1029.08,1110.51 L1031.81,1111.39 L1034.55,1112.32 L1037.28,1113.30 L1040.02,1114.33 L1042.75,1115.40 L1045.49,1116.53 L1048.22,1117.71 L1050.96,1118.95 L1053.69,1120.24 L1056.43,1121.59 L1059.16,1122.99 L1061.90,1124.45 L1064.64,1125.98 L1067.37,1127.56 L1070.11,1129.20 L1072.84,1130.89 L1075.58,1132.65 L1078.31,1134.47 L1081.05,1136.34 L1083.78,1138.27 L1086.52,1140.25 L1089.25,1142.28 L1091.99,1144.37 L1094.72,1146.50 L1097.46,1148.68 L1100.19,1150.90 L1102.93,1153.16 L1105.66,1155.45 L1108.40,1157.77" fill="none" stroke="#262626" stroke-width="3.0" stroke-linejoin="round"/>
<path d="M782.90,1104.86 L785.64,1105.05 L788.37,1105.25 L791.11,1105.46 L793.84,1105.68 L796.58,1105.92 L799.31,1106.17 L802.05,1106.44 L804.78,1106.72 L807.52,1107.02 L810.25,1107.33 L812.99,1107.66 L815.72,1108.02 L818.46,1108.39 L821.19,1108.78 L823.93,1109.20 L826.66,1109.64 L829.40,1110.10 L832.14,1110.59 L834.87,1111.11 L837.61,1111.66 L840.34,1112.24 L843.08,1112.85 L845.81,1113.49 L848.55,1114.17 L851.28,1114.89 L854.02,1115.64 L856.75,1116.44 L859.49,1117.28 L862.22,1118.16 L864.96,1119.09 L867.69,1120.06 L870.43,1121.09 L873.16,1122.17 L875.90,1123.30 L878.64,1124.48 L881.37,1125.73 L884.11,1127.03 L886.84,1128.40 L889.58,1129.83 L892.31,1131.33 L895.05,1132.89 L897.78,1134.53 L900.52,1136.23 L903.25,1138.01 L905.99,1139.86 L908.72,1141.79 L911.46,1143.79 L914.19,1145.88 L916.93,1148.03 L919.66,1150.27 L922.40,1152.59 L925.14,1154.98 L927.87,1157.46 L930.61,1160.01 L933.34,1162.64 L936.08,1165.34 L938.81,1168.12 L941.55,1170.97 L944.28,1173.89 L947.02,1176.88 L949.75,1179.93 L952.49,1183.04 L955.22,1186.21 L957.96,1189.42 L960.69,1192.69 L963.43,1196.00 L966.16,1199.35 L968.90,1202.73 L971.64,1206.14 L974.37,1209.57 L977.11,1213.02 L979.84,1216.48 L982.58,1219.94 L985.31,1223.39 L988.05,1226.84 L990.78,1230.28 L993.52,1233.69 L996.25,1237.08 L998.99,1240.44 L1001.72,1243.76 L1004.46,1247.04 L1007.19,1250.27 L1009.93,1253.45 L1012.66,1256.57 L1015.40,1259.64 L1018.14,1262.64 L1020.87,1265.58 L1023.61,1268.45 L1026.34,1271.24 L1029.08,1273.96 L1031.81,1276.61 L1034.55,1279.18 L1037.28,1281.67 L1040.02,1284.09 L1042.75,1286.42 L1045.49,1288.68 L1048.22,1290.86 L1050.96,1292.96 L1053.69,1294.98 L1056.43,1296.93 L1059.16,1298.80 L1061.90,1300.59 L1064.64,1302.32 L1067.37,1303.97 L1070.11,1305.55 L1072.84,1307.06 L1075.58,1308.51 L1078.31,1309.89 L1081.05,1311.21 L1083.78,1312.47 L1086.52,1313.67 L1089.25,1314.82 L1091.99,1315.91 L1094.72,1316.94 L1097.46,1317.93 L1100.19,1318.87 L1102.93,1319.76 L1105.66,1320.61 L1108.40,1321.42" fill="none" stroke="#262626" stroke-width="3.0" stroke-linejoin="round"/>
<line x1="772.90" y1="1090.00" x2="792.90" y2="1090.00" stroke="#262626" stroke-width="2" stroke-linecap="butt"/>
<line x1="772.90" y1="1114.60" x2="792.90" y2="1114.60" stroke="#262626" stroke-width="2" stroke-linecap="butt"/>
<line x1="782.90" y1="1090.00" x2="782.90" y2="1114.60" stroke="#262626" stroke-width="2" stroke-linecap="butt"/>
<line x1="852.40" y1="1063.00" x2="872.40" y2="1063.00" stroke="#262626" stroke-width="2" stroke-linecap="butt"/>
<line x1="852.40" y1="1148.00" x2="872.40" y2="1148.00" stroke="#262626" stroke-width="2" stroke-linecap="butt"/>
<line x1="862.40" y1="1063.00" x2="862.40" y2="1148.00" stroke="#262626" stroke-width="2" stroke-linecap="butt"/>
<line x1="852.40" y1="1083.00" x2="872.40" y2="1083.00" stroke="#262626" stroke-width="2" stroke-linecap="butt"/>
<line x1="852.40" y1="1172.00" x2="872.40" y2="1172.00" stroke="#262626" stroke-width="2" stroke-linecap="butt"/>
<line x1="862.40" y1="1083.00" x2="862.40" y2="1172.00" stroke="#262626" stroke-width="2" stroke-linecap="butt"/>
<line x1="883.00" y1="1054.60" x2="903.00" y2="1054.60" stroke="#262626" stroke-width="2" stroke-linecap="butt"/>
<line x1="883.00" y1="1106.50" x2="903.00" y2="1106.50" stroke="#262626" stroke-width="2" stroke-linecap="butt"/>
<line x1="893.00" y1="1054.60" x2="893.00" y2="1106.50" stroke="#262626" stroke-width="2" stroke-linecap="butt"/>
<line x1="883.00" y1="1095.00" x2="903.00" y2="1095.00" stroke="#262626" stroke-width="2" stroke-linecap="butt"/>
<line x1="883.00" y1="1137.40" x2="903.00" y2="1137.40" stroke="#262626" stroke-width="2" stroke-linecap="butt"/>
<line x1="893.00" y1="1095.00" x2="893.00" y2="1137.40" stroke="#262626" stroke-width="2" stroke-linecap="butt"/>
<line x1="913.60" y1="1060.00" x2="933.60" y2="1060.00" stroke="#262626" stroke-width="2" stroke-linecap="butt"/>
<line x1="913.60" y1="1156.60" x2="933.60" y2="1156.60" stroke="#262626" stroke-width="2" stroke-linecap="butt"/>
<line x1="923.60" y1="1060.00" x2="923.60" y2="1156.60" stroke="#262626" stroke-width="2" stroke-linecap="butt"/>
<line x1="913.60" y1="1124.50" x2="933.60" y2="1124.50" stroke="#262626" stroke-width="2" stroke-linecap="butt"/>
<line x1="913.60" y1="1209.40" x2="933.60" y2="1209.40" stroke="#262626" stroke-width="2" stroke-linecap="butt"/>
<line x1="923.60" y1="1124.50" x2="923.60" y2="1209.40" stroke="#262626" stroke-width="2" stroke-linecap="butt"/>
<line x1="944.50" y1="1070.00" x2="964.50" y2="1070.00" stroke="#262626" stroke-width="2" stroke-linecap="butt"/>
<line x1="944.50" y1="1117.00" x2="964.50" y2="1117.00" stroke="#262626" stroke-width="2" stroke-linecap="butt"/>
<line x1="954.50" y1="1070.00" x2="954.50" y2="1117.00" stroke="#262626" stroke-width="2" stroke-linecap="butt"/>
<line x1="944.50" y1="1158.00" x2="964.50" y2="1158.00" stroke="#262626" stroke-width="2" stroke-linecap="butt"/>
<line x1="944.50" y1="1208.20" x2="964.50" y2="1208.20" stroke="#262626" stroke-width="2" stroke-linecap="butt"/>
<line x1="954.50" y1="1158.00" x2="954.50" y2="1208.20" stroke="#262626" stroke-width="2" stroke-linecap="butt"/>
<line x1="975.40" y1="1070.50" x2="995.40" y2="1070.50" stroke="#262626" stroke-width="2" stroke-linecap="butt"/>
<line x1="975.40" y1="1143.40" x2="995.40" y2="1143.40" stroke="#262626" stroke-width="2" stroke-linecap="butt"/>
<line x1="985.40" y1="1070.50" x2="985.40" y2="1143.40" stroke="#262626" stroke-width="2" stroke-linecap="butt"/>
<line x1="975.40" y1="1217.50" x2="995.40" y2="1217.50" stroke="#262626" stroke-width="2" stroke-linecap="butt"/>
<line x1="975.40" y1="1272.40" x2="995.40" y2="1272.40" stroke="#262626" stroke-width="2" stroke-linecap="butt"/>
<line x1="985.40" y1="1217.50" x2="985.40" y2="1272.40" stroke="#262626" stroke-width="2" stroke-linecap="butt"/>
<line x1="1006.00" y1="1070.50" x2="1026.00" y2="1070.50" stroke="#262626" stroke-width="2" stroke-linecap="butt"/>
<line x1="1006.00" y1="1119.00" x2="1026.00" y2="1119.00" stroke="#262626" stroke-width="2" stroke-linecap="butt"/>
<line x1="1016.00" y1="1070.50" x2="1016.00" y2="1119.00" stroke="#262626" stroke-width="2" stroke-linecap="butt"/>
<line x1="1006.00" y1="1229.50" x2="1026.00" y2="1229.50" stroke="#262626" stroke-width="2" stroke-linecap="butt"/>
<line x1="1006.00" y1="1277.50" x2="1026.00" y2="1277.50" stroke="#262626" stroke-width="2" stroke-linecap="butt"/>
<line x1="1016.00" y1="1229.50" x2="1016.00" y2="1277.50" stroke="#262626" stroke-width="2" stroke-linecap="butt"/>
<line x1="1036.60" y1="1091.50" x2="1056.60" y2="1091.50" stroke="#262626" stroke-width="2" stroke-linecap="butt"/>
<line x1="1036.60" y1="1157.50" x2="1056.60" y2="1157.50" stroke="#262626" stroke-width="2" stroke-linecap="butt"/>
<line x1="1046.60" y1="1091.50" x2="1046.60" y2="1157.50" stroke="#262626" stroke-width="2" stroke-linecap="butt"/>
<line x1="1036.60" y1="1235.50" x2="1056.60" y2="1235.50" stroke="#262626" stroke-width="2" stroke-linecap="butt"/>
<line x1="1036.60" y1="1314.40" x2="1056.60" y2="1314.40" stroke="#262626" stroke-width="2" stroke-linecap="butt"/>
<line x1="1046.60" y1="1235.50" x2="1046.60" y2="1314.40" stroke="#262626" stroke-width="2" stroke-linecap="butt"/>
<line x1="1067.50" y1="1268.50" x2="1087.50" y2="1268.50" stroke="#262626" stroke-width="2" stroke-linecap="butt"/>
<line x1="1067.50" y1="1333.60" x2="1087.50" y2="1333.60" stroke="#262626" stroke-width="2" stroke-linecap="butt"/>
<line x1="1077.50" y1="1268.50" x2="1077.50" y2="1333.60" stroke="#262626" stroke-width="2" stroke-linecap="butt"/>
<line x1="1098.40" y1="1150.60" x2="1118.40" y2="1150.60" stroke="#262626" stroke-width="2" stroke-linecap="butt"/>
<line x1="1098.40" y1="1177.00" x2="1118.40" y2="1177.00" stroke="#262626" stroke-width="2" stroke-linecap="butt"/>
<line x1="1108.40" y1="1150.60" x2="1108.40" y2="1177.00" stroke="#262626" stroke-width="2" stroke-linecap="butt"/>
<line x1="1098.40" y1="1326.40" x2="1118.40" y2="1326.40" stroke="#262626" stroke-width="2" stroke-linecap="butt"/>
<line x1="1098.40" y1="1363.00" x2="1118.40" y2="1363.00" stroke="#262626" stroke-width="2" stroke-linecap="butt"/>
<line x1="1108.40" y1="1326.40" x2="1108.40" y2="1363.00" stroke="#262626" stroke-width="2" stroke-linecap="butt"/>
<circle cx="862.40" cy="1105.60" r="10.20" fill="#d4d4d4" stroke="#262626" stroke-width="1.8"/>
<circle cx="893.00" cy="1079.50" r="10.20" fill="#d4d4d4" stroke="#262626" stroke-width="1.8"/>
<circle cx="923.60" cy="1108.60" r="10.20" fill="#d4d4d4" stroke="#262626" stroke-width="1.8"/>
<circle cx="954.50" cy="1093.60" r="10.20" fill="#d4d4d4" stroke="#262626" stroke-width="1.8"/>
<circle cx="985.40" cy="1106.50" r="10.20" fill="#d4d4d4" stroke="#262626" stroke-width="1.8"/>
<circle cx="1016.00" cy="1094.50" r="10.20" fill="#d4d4d4" stroke="#262626" stroke-width="1.8"/>
<circle cx="1046.60" cy="1124.50" r="10.20" fill="#d4d4d4" stroke="#262626" stroke-width="1.8"/>
<circle cx="1077.50" cy="1124.50" r="10.20" fill="#d4d4d4" stroke="#262626" stroke-width="1.8"/>
<circle cx="1108.40" cy="1163.50" r="10.20" fill="#d4d4d4" stroke="#262626" stroke-width="1.8"/>
<circle cx="782.90" cy="1102.00" r="10.30" fill="#262626"/>
<circle cx="862.40" cy="1127.50" r="10.30" fill="#262626"/>
<circle cx="893.00" cy="1116.40" r="10.30" fill="#262626"/>
<circle cx="923.60" cy="1167.40" r="10.30" fill="#262626"/>
<circle cx="954.50" cy="1183.00" r="10.30" fill="#262626"/>
<circle cx="985.40" cy="1243.60" r="10.30" fill="#262626"/>
<circle cx="1016.00" cy="1253.50" r="10.30" fill="#262626"/>
<circle cx="1046.60" cy="1274.50" r="10.30" fill="#262626"/>
<circle cx="1077.50" cy="1300.00" r="10.30" fill="#262626"/>
<circle cx="1108.40" cy="1346.50" r="10.30" fill="#262626"/>
<line x1="801.50" y1="1296.40" x2="845.00" y2="1296.40" stroke="#262626" stroke-width="3.6" stroke-linecap="butt"/>
<line x1="801.50" y1="1336.60" x2="845.00" y2="1336.60" stroke="#262626" stroke-width="3.6" stroke-linecap="butt"/>
<circle cx="823.40" cy="1296.40" r="10.30" fill="#262626"/>
<circle cx="823.40" cy="1336.60" r="10.20" fill="#d4d4d4" stroke="#262626" stroke-width="1.8"/>
<text x="871.66" y="1308.40" font-size="29.96" textLength="50.29" lengthAdjust="spacingAndGlyphs" fill="#262626" stroke="#262626" stroke-width="1.0" stroke-linejoin="round">BS2</text>
<text x="871.41" y="1347.50" font-size="29.38" textLength="78.05" lengthAdjust="spacingAndGlyphs" fill="#262626" stroke="#262626" stroke-width="1.0" stroke-linejoin="round">mBS2</text>
</svg></body></html>
